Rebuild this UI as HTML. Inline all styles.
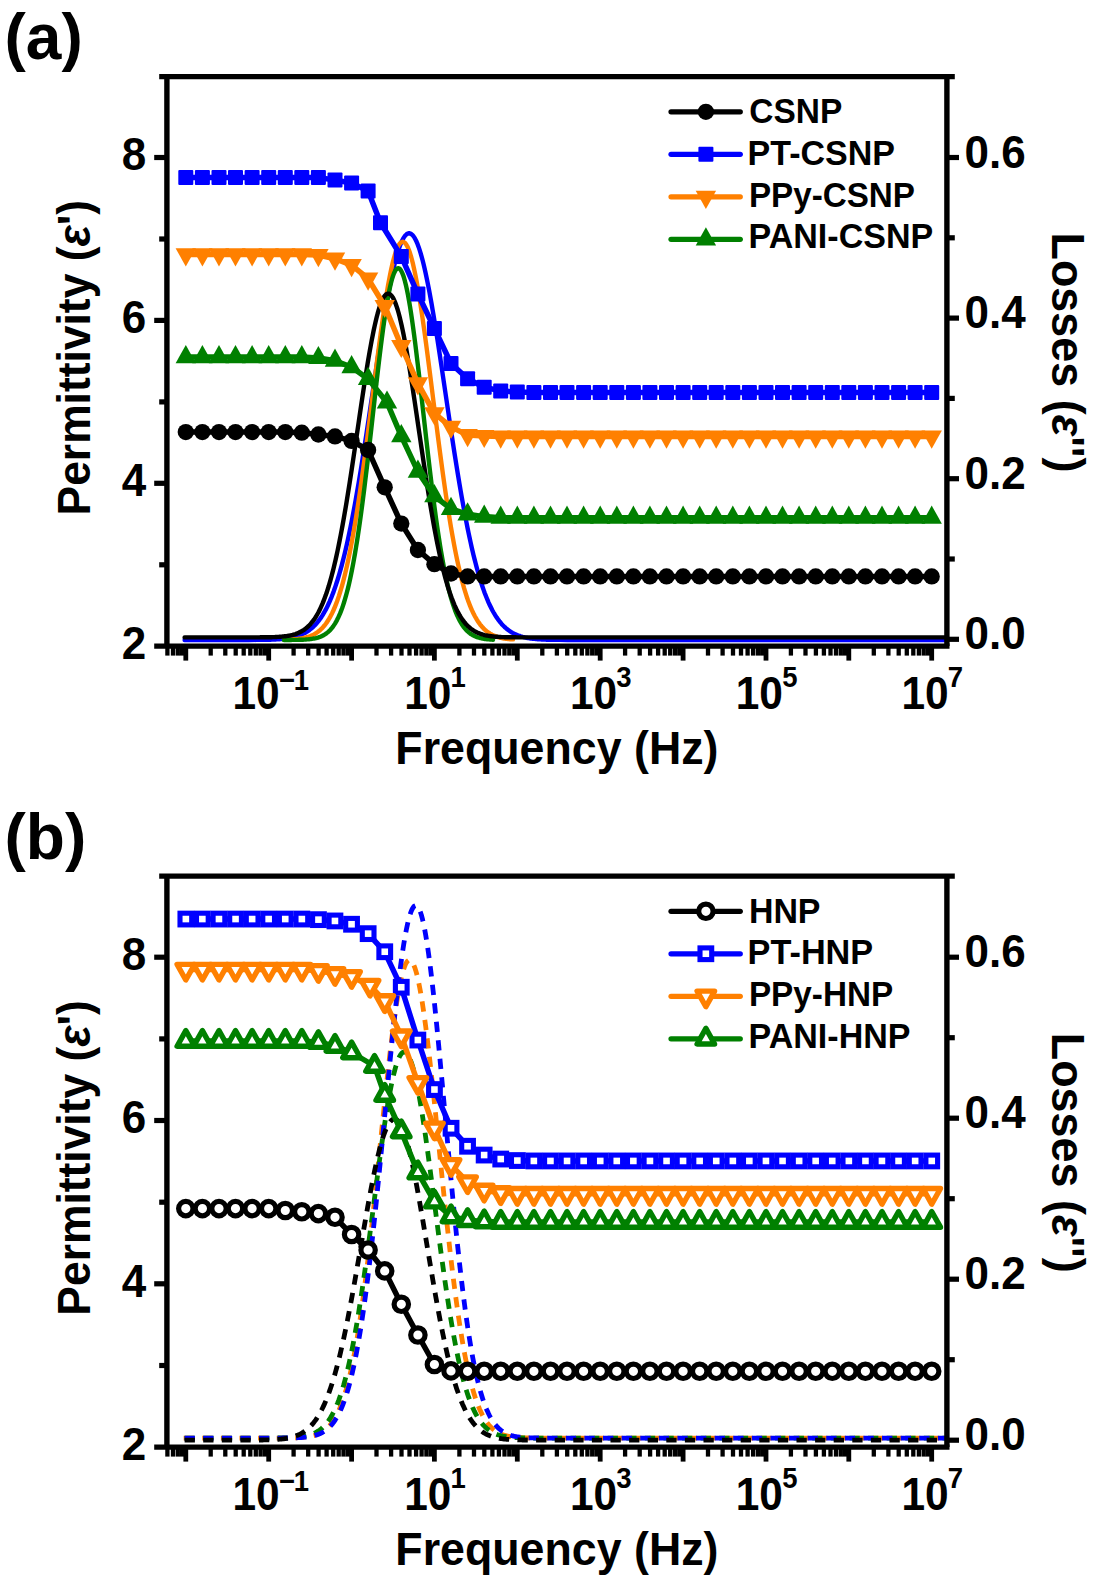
<!DOCTYPE html>
<html><head><meta charset="utf-8"><title>Permittivity and losses</title>
<style>html,body{margin:0;padding:0;background:#fff}svg{display:block}text{font-family:"Liberation Sans",sans-serif}</style>
</head><body>
<svg width="1100" height="1581" viewBox="0 0 1100 1581">
<rect width="1100" height="1581" fill="#fff"/>
<path d="M184.6 640.0 L192.6 640.0 L200.6 640.0 L208.6 640.0 L216.6 640.0 L224.6 640.0 L232.6 640.0 L240.6 640.0 L248.6 640.0 L256.6 639.9 L264.6 639.8 L265.6 639.8 L266.6 639.8 L267.6 639.8 L268.6 639.7 L269.6 639.7 L270.6 639.7 L271.6 639.6 L272.6 639.6 L273.6 639.6 L274.6 639.5 L275.6 639.5 L276.6 639.4 L277.6 639.4 L278.6 639.3 L279.6 639.2 L280.6 639.1 L281.6 639.1 L282.6 639.0 L283.6 638.9 L284.6 638.8 L285.6 638.6 L286.6 638.5 L287.6 638.4 L288.6 638.2 L289.6 638.0 L290.6 637.8 L291.6 637.6 L292.6 637.4 L293.6 637.2 L294.6 637.0 L295.6 636.7 L296.6 636.4 L297.6 636.1 L298.6 635.7 L299.6 635.4 L300.6 635.0 L301.6 634.6 L302.6 634.1 L303.6 633.6 L304.6 633.1 L305.6 632.5 L306.6 631.9 L307.6 631.3 L308.6 630.6 L309.6 629.9 L310.6 629.1 L311.6 628.3 L312.6 627.4 L313.6 626.5 L314.6 625.5 L315.6 624.4 L316.6 623.3 L317.6 622.1 L318.6 620.9 L319.6 619.5 L320.6 618.1 L321.6 616.7 L322.6 615.1 L323.6 613.4 L324.6 611.7 L325.6 609.9 L326.6 607.9 L327.6 605.9 L328.6 603.8 L329.6 601.6 L330.6 599.2 L331.6 596.8 L332.6 594.2 L333.6 591.6 L334.6 588.8 L335.6 585.9 L336.6 582.8 L337.6 579.7 L338.6 576.4 L339.6 573.0 L340.6 569.4 L341.6 565.8 L342.6 561.9 L343.6 558.0 L344.6 553.9 L345.6 549.7 L346.6 545.4 L347.6 540.9 L348.6 536.3 L349.6 531.5 L350.6 526.6 L351.6 521.6 L352.6 516.5 L353.6 511.2 L354.6 505.8 L355.6 500.3 L356.6 494.6 L357.6 488.9 L358.6 483.0 L359.6 477.0 L360.6 471.0 L361.6 464.8 L362.6 458.5 L363.6 452.2 L364.6 445.8 L365.6 439.3 L366.6 432.8 L367.6 426.2 L368.6 419.5 L369.6 412.8 L370.6 406.1 L371.6 399.4 L372.6 392.7 L373.6 385.9 L374.6 379.2 L375.6 372.5 L376.6 365.8 L377.6 359.2 L378.6 352.6 L379.6 346.1 L380.6 339.7 L381.6 333.3 L382.6 327.1 L383.6 320.9 L384.6 314.9 L385.6 309.1 L386.6 303.3 L387.6 297.8 L388.6 292.3 L389.6 287.1 L390.6 282.1 L391.6 277.2 L392.6 272.6 L393.6 268.2 L394.6 264.0 L395.6 260.0 L396.6 256.3 L397.6 252.9 L398.6 249.7 L399.6 246.8 L400.6 244.1 L401.6 241.7 L402.6 239.7 L403.6 237.9 L404.6 236.4 L405.6 235.2 L406.6 234.2 L407.6 233.6 L408.6 233.3 L409.6 233.3 L410.6 233.6 L411.6 234.3 L412.6 235.2 L413.6 236.4 L414.6 237.9 L415.6 239.7 L416.6 241.8 L417.6 244.2 L418.6 246.9 L419.6 249.9 L420.6 253.1 L421.6 256.6 L422.6 260.3 L423.6 264.3 L424.6 268.6 L425.6 273.0 L426.6 277.7 L427.6 282.6 L428.6 287.7 L429.6 292.9 L430.6 298.4 L431.6 304.0 L432.6 309.8 L433.6 315.7 L434.6 321.8 L435.6 328.0 L436.6 334.3 L437.6 340.7 L438.6 347.1 L439.6 353.7 L440.6 360.3 L441.6 367.0 L442.6 373.7 L443.6 380.5 L444.6 387.2 L445.6 394.0 L446.6 400.8 L447.6 407.5 L448.6 414.3 L449.6 421.0 L450.6 427.7 L451.6 434.3 L452.6 440.9 L453.6 447.4 L454.6 453.8 L455.6 460.2 L456.6 466.4 L457.6 472.6 L458.6 478.7 L459.6 484.6 L460.6 490.5 L461.6 496.3 L462.6 501.9 L463.6 507.4 L464.6 512.8 L465.6 518.1 L466.6 523.2 L467.6 528.2 L468.6 533.1 L469.6 537.8 L470.6 542.4 L471.6 546.9 L472.6 551.2 L473.6 555.4 L474.6 559.4 L475.6 563.3 L476.6 567.1 L477.6 570.8 L478.6 574.3 L479.6 577.7 L480.6 580.9 L481.6 584.0 L482.6 587.0 L483.6 589.9 L484.6 592.7 L485.6 595.3 L486.6 597.8 L487.6 600.2 L488.6 602.6 L489.6 604.7 L490.6 606.8 L491.6 608.8 L492.6 610.7 L493.6 612.5 L494.6 614.2 L495.6 615.8 L496.6 617.4 L497.6 618.8 L498.6 620.2 L499.6 621.5 L500.6 622.7 L501.6 623.9 L502.6 625.0 L503.6 626.0 L504.6 627.0 L505.6 627.9 L506.6 628.7 L507.6 629.5 L508.6 630.3 L509.6 631.0 L510.6 631.7 L511.6 632.3 L512.6 632.9 L513.6 633.4 L514.6 633.9 L515.6 634.4 L516.6 634.8 L517.6 635.2 L518.6 635.6 L519.6 635.9 L520.6 636.3 L521.6 636.6 L522.6 636.9 L523.6 637.1 L524.6 637.4 L525.6 637.6 L526.6 637.8 L527.6 638.0 L528.6 638.1 L529.6 638.3 L530.6 638.5 L531.6 638.6 L532.6 638.7 L533.6 638.8 L534.6 638.9 L535.6 639.0 L536.6 639.1 L537.6 639.2 L538.6 639.3 L539.6 639.3 L540.6 639.4 L541.6 639.5 L542.6 639.5 L543.6 639.6 L544.6 639.6 L545.6 639.6 L546.6 639.7 L547.6 639.7 L548.6 639.7 L549.6 639.8 L550.6 639.8 L551.6 639.8 L552.6 639.8 L553.6 639.8 L554.6 639.9 L555.6 639.9 L556.6 639.9 L557.6 639.9 L558.6 639.9 L559.6 639.9 L567.6 640.0 L575.6 640.0 L583.6 640.0 L591.6 640.0 L599.6 640.0 L607.6 640.0 L615.6 640.0 L623.6 640.0 L631.6 640.0 L639.6 640.0 L647.6 640.0 L655.6 640.0 L663.6 640.0 L671.6 640.0 L679.6 640.0 L687.6 640.0 L695.6 640.0 L703.6 640.0 L711.6 640.0 L719.6 640.0 L727.6 640.0 L735.6 640.0 L743.6 640.0 L751.6 640.0 L759.6 640.0 L767.6 640.0 L775.6 640.0 L783.6 640.0 L791.6 640.0 L799.6 640.0 L807.6 640.0 L815.6 640.0 L823.6 640.0 L831.6 640.0 L839.6 640.0 L847.6 640.0 L855.6 640.0 L863.6 640.0 L871.6 640.0 L879.6 640.0 L887.6 640.0 L895.6 640.0 L903.6 640.0 L911.6 640.0 L919.6 640.0 L927.6 640.0 L935.6 640.0 L943.6 640.0 L945.2 640.0" fill="none" stroke="#0000ff" stroke-width="4.4" stroke-linejoin="round" stroke-linecap="round"/>
<path d="M284.0 639.8 L285.0 639.8 L286.0 639.7 L287.0 639.7 L288.0 639.7 L289.0 639.6 L290.0 639.6 L291.0 639.5 L292.0 639.5 L293.0 639.4 L294.0 639.3 L295.0 639.3 L296.0 639.2 L297.0 639.1 L298.0 638.9 L299.0 638.8 L300.0 638.7 L301.0 638.5 L302.0 638.4 L303.0 638.2 L304.0 638.0 L305.0 637.7 L306.0 637.5 L307.0 637.2 L308.0 636.9 L309.0 636.6 L310.0 636.2 L311.0 635.8 L312.0 635.4 L313.0 634.9 L314.0 634.4 L315.0 633.8 L316.0 633.2 L317.0 632.5 L318.0 631.8 L319.0 631.0 L320.0 630.2 L321.0 629.2 L322.0 628.3 L323.0 627.2 L324.0 626.0 L325.0 624.8 L326.0 623.5 L327.0 622.1 L328.0 620.5 L329.0 618.9 L330.0 617.2 L331.0 615.3 L332.0 613.4 L333.0 611.3 L334.0 609.0 L335.0 606.6 L336.0 604.1 L337.0 601.5 L338.0 598.6 L339.0 595.7 L340.0 592.5 L341.0 589.2 L342.0 585.8 L343.0 582.1 L344.0 578.3 L345.0 574.3 L346.0 570.1 L347.0 565.7 L348.0 561.1 L349.0 556.3 L350.0 551.4 L351.0 546.2 L352.0 540.9 L353.0 535.4 L354.0 529.6 L355.0 523.7 L356.0 517.6 L357.0 511.4 L358.0 504.9 L359.0 498.3 L360.0 491.5 L361.0 484.6 L362.0 477.5 L363.0 470.3 L364.0 462.9 L365.0 455.4 L366.0 447.9 L367.0 440.2 L368.0 432.4 L369.0 424.6 L370.0 416.7 L371.0 408.8 L372.0 400.9 L373.0 392.9 L374.0 385.0 L375.0 377.1 L376.0 369.2 L377.0 361.4 L378.0 353.7 L379.0 346.2 L380.0 338.7 L381.0 331.4 L382.0 324.2 L383.0 317.2 L384.0 310.4 L385.0 303.9 L386.0 297.6 L387.0 291.5 L388.0 285.7 L389.0 280.3 L390.0 275.1 L391.0 270.2 L392.0 265.7 L393.0 261.6 L394.0 257.8 L395.0 254.4 L396.0 251.4 L397.0 248.7 L398.0 246.5 L399.0 244.7 L400.0 243.4 L401.0 242.4 L402.0 241.9 L403.0 241.8 L404.0 242.2 L405.0 242.9 L406.0 244.1 L407.0 245.8 L408.0 247.8 L409.0 250.3 L410.0 253.1 L411.0 256.4 L412.0 260.0 L413.0 264.0 L414.0 268.4 L415.0 273.1 L416.0 278.1 L417.0 283.5 L418.0 289.2 L419.0 295.1 L420.0 301.3 L421.0 307.8 L422.0 314.5 L423.0 321.4 L424.0 328.5 L425.0 335.7 L426.0 343.1 L427.0 350.7 L428.0 358.4 L429.0 366.1 L430.0 373.9 L431.0 381.8 L432.0 389.7 L433.0 397.7 L434.0 405.6 L435.0 413.6 L436.0 421.5 L437.0 429.3 L438.0 437.1 L439.0 444.8 L440.0 452.4 L441.0 459.9 L442.0 467.3 L443.0 474.6 L444.0 481.8 L445.0 488.8 L446.0 495.6 L447.0 502.3 L448.0 508.8 L449.0 515.1 L450.0 521.3 L451.0 527.3 L452.0 533.1 L453.0 538.7 L454.0 544.1 L455.0 549.3 L456.0 554.4 L457.0 559.2 L458.0 563.9 L459.0 568.3 L460.0 572.6 L461.0 576.7 L462.0 580.6 L463.0 584.3 L464.0 587.9 L465.0 591.2 L466.0 594.4 L467.0 597.5 L468.0 600.4 L469.0 603.1 L470.0 605.7 L471.0 608.1 L472.0 610.4 L473.0 612.5 L474.0 614.6 L475.0 616.5 L476.0 618.2 L477.0 619.9 L478.0 621.5 L479.0 622.9 L480.0 624.3 L481.0 625.6 L482.0 626.7 L483.0 627.8 L484.0 628.9 L485.0 629.8 L486.0 630.7 L487.0 631.5 L488.0 632.2 L489.0 632.9 L490.0 633.6 L491.0 634.1 L492.0 634.7 L493.0 635.2 L494.0 635.6 L495.0 636.0 L496.0 636.4 L497.0 636.8 L498.0 637.1 L499.0 637.4 L500.0 637.6 L501.0 637.9 L502.0 638.1 L503.0 638.3 L504.0 638.5 L505.0 638.6 L506.0 638.8 L507.0 638.9 L508.0 639.0 L509.0 639.1 L510.0 639.2 L511.0 639.3 L512.0 639.4 L513.0 639.4" fill="none" stroke="#ff8000" stroke-width="4.4" stroke-linejoin="round" stroke-linecap="round"/>
<path d="M284.0 640.0 L285.0 640.0 L286.0 640.0 L287.0 640.0 L288.0 640.0 L289.0 640.0 L290.0 640.0 L291.0 640.0 L292.0 639.9 L293.0 639.9 L294.0 639.9 L295.0 639.9 L296.0 639.9 L297.0 639.9 L298.0 639.9 L299.0 639.8 L300.0 639.8 L301.0 639.8 L302.0 639.7 L303.0 639.7 L304.0 639.6 L305.0 639.6 L306.0 639.5 L307.0 639.4 L308.0 639.4 L309.0 639.3 L310.0 639.1 L311.0 639.0 L312.0 638.9 L313.0 638.7 L314.0 638.5 L315.0 638.3 L316.0 638.1 L317.0 637.8 L318.0 637.6 L319.0 637.2 L320.0 636.9 L321.0 636.5 L322.0 636.0 L323.0 635.5 L324.0 635.0 L325.0 634.3 L326.0 633.7 L327.0 632.9 L328.0 632.1 L329.0 631.2 L330.0 630.2 L331.0 629.1 L332.0 627.9 L333.0 626.6 L334.0 625.1 L335.0 623.6 L336.0 621.9 L337.0 620.1 L338.0 618.1 L339.0 615.9 L340.0 613.6 L341.0 611.1 L342.0 608.5 L343.0 605.6 L344.0 602.5 L345.0 599.2 L346.0 595.7 L347.0 592.0 L348.0 588.1 L349.0 583.9 L350.0 579.4 L351.0 574.8 L352.0 569.8 L353.0 564.6 L354.0 559.2 L355.0 553.5 L356.0 547.5 L357.0 541.3 L358.0 534.8 L359.0 528.1 L360.0 521.1 L361.0 513.9 L362.0 506.4 L363.0 498.8 L364.0 490.9 L365.0 482.8 L366.0 474.6 L367.0 466.2 L368.0 457.7 L369.0 449.0 L370.0 440.2 L371.0 431.4 L372.0 422.5 L373.0 413.6 L374.0 404.7 L375.0 395.8 L376.0 387.0 L377.0 378.3 L378.0 369.7 L379.0 361.2 L380.0 353.0 L381.0 344.9 L382.0 337.1 L383.0 329.6 L384.0 322.4 L385.0 315.5 L386.0 309.0 L387.0 302.9 L388.0 297.2 L389.0 292.0 L390.0 287.2 L391.0 283.0 L392.0 279.2 L393.0 276.0 L394.0 273.3 L395.0 271.2 L396.0 269.6 L397.0 268.6 L398.0 268.2 L399.0 268.4 L400.0 269.1 L401.0 270.5 L402.0 272.4 L403.0 274.8 L404.0 277.8 L405.0 281.4 L406.0 285.5 L407.0 290.0 L408.0 295.1 L409.0 300.6 L410.0 306.5 L411.0 312.9 L412.0 319.6 L413.0 326.7 L414.0 334.1 L415.0 341.8 L416.0 349.7 L417.0 357.9 L418.0 366.3 L419.0 374.8 L420.0 383.5 L421.0 392.3 L422.0 401.1 L423.0 410.0 L424.0 418.9 L425.0 427.8 L426.0 436.7 L427.0 445.5 L428.0 454.2 L429.0 462.8 L430.0 471.2 L431.0 479.6 L432.0 487.7 L433.0 495.6 L434.0 503.4 L435.0 510.9 L436.0 518.2 L437.0 525.3 L438.0 532.1 L439.0 538.7 L440.0 545.0 L441.0 551.1 L442.0 556.9 L443.0 562.5 L444.0 567.8 L445.0 572.8 L446.0 577.6 L447.0 582.1 L448.0 586.4 L449.0 590.5 L450.0 594.3 L451.0 597.9 L452.0 601.2 L453.0 604.4 L454.0 607.3 L455.0 610.1 L456.0 612.7 L457.0 615.0 L458.0 617.2 L459.0 619.3 L460.0 621.2 L461.0 622.9 L462.0 624.5 L463.0 626.0 L464.0 627.4 L465.0 628.6 L466.0 629.7 L467.0 630.8 L468.0 631.7 L469.0 632.6 L470.0 633.4 L471.0 634.1 L472.0 634.7 L473.0 635.3 L474.0 635.8 L475.0 636.3 L476.0 636.7 L477.0 637.1 L478.0 637.4 L479.0 637.7 L480.0 638.0 L481.0 638.2 L482.0 638.5 L483.0 638.6 L484.0 638.8 L485.0 639.0 L486.0 639.1 L487.0 639.2 L488.0 639.3 L489.0 639.4 L490.0 639.5 L491.0 639.6 L492.0 639.6 L493.0 639.7" fill="none" stroke="#008000" stroke-width="4.4" stroke-linejoin="round" stroke-linecap="round"/>
<path d="M184.6 637.4 L192.6 637.4 L200.6 637.4 L208.6 637.4 L216.6 637.4 L224.6 637.4 L232.6 637.4 L240.6 637.4 L241.6 637.4 L242.6 637.4 L243.6 637.4 L244.6 637.4 L245.6 637.4 L246.6 637.4 L247.6 637.4 L248.6 637.4 L249.6 637.4 L250.6 637.4 L251.6 637.4 L252.6 637.4 L253.6 637.4 L254.6 637.4 L255.6 637.4 L256.6 637.4 L257.6 637.4 L258.6 637.4 L259.6 637.4 L260.6 637.3 L261.6 637.3 L262.6 637.3 L263.6 637.3 L264.6 637.3 L265.6 637.3 L266.6 637.3 L267.6 637.3 L268.6 637.2 L269.6 637.2 L270.6 637.2 L271.6 637.2 L272.6 637.1 L273.6 637.1 L274.6 637.1 L275.6 637.0 L276.6 637.0 L277.6 636.9 L278.6 636.9 L279.6 636.8 L280.6 636.7 L281.6 636.6 L282.6 636.5 L283.6 636.4 L284.6 636.3 L285.6 636.2 L286.6 636.1 L287.6 635.9 L288.6 635.7 L289.6 635.6 L290.6 635.3 L291.6 635.1 L292.6 634.9 L293.6 634.6 L294.6 634.3 L295.6 634.0 L296.6 633.6 L297.6 633.2 L298.6 632.8 L299.6 632.3 L300.6 631.8 L301.6 631.3 L302.6 630.7 L303.6 630.1 L304.6 629.4 L305.6 628.6 L306.6 627.8 L307.6 626.9 L308.6 626.0 L309.6 625.0 L310.6 623.9 L311.6 622.7 L312.6 621.5 L313.6 620.1 L314.6 618.7 L315.6 617.2 L316.6 615.5 L317.6 613.8 L318.6 612.0 L319.6 610.0 L320.6 607.9 L321.6 605.7 L322.6 603.4 L323.6 600.9 L324.6 598.3 L325.6 595.6 L326.6 592.7 L327.6 589.6 L328.6 586.5 L329.6 583.1 L330.6 579.6 L331.6 576.0 L332.6 572.1 L333.6 568.2 L334.6 564.0 L335.6 559.7 L336.6 555.2 L337.6 550.6 L338.6 545.8 L339.6 540.8 L340.6 535.7 L341.6 530.4 L342.6 525.0 L343.6 519.4 L344.6 513.6 L345.6 507.8 L346.6 501.8 L347.6 495.6 L348.6 489.4 L349.6 483.1 L350.6 476.6 L351.6 470.1 L352.6 463.4 L353.6 456.7 L354.6 450.0 L355.6 443.2 L356.6 436.4 L357.6 429.6 L358.6 422.7 L359.6 415.9 L360.6 409.1 L361.6 402.4 L362.6 395.7 L363.6 389.1 L364.6 382.5 L365.6 376.1 L366.6 369.9 L367.6 363.7 L368.6 357.7 L369.6 351.9 L370.6 346.3 L371.6 340.9 L372.6 335.8 L373.6 330.8 L374.6 326.1 L375.6 321.7 L376.6 317.6 L377.6 313.7 L378.6 310.2 L379.6 307.0 L380.6 304.1 L381.6 301.6 L382.6 299.3 L383.6 297.5 L384.6 296.0 L385.6 294.8 L386.6 294.1 L387.6 293.7 L388.6 293.6 L389.6 294.0 L390.6 294.7 L391.6 295.7 L392.6 297.2 L393.6 298.9 L394.6 301.1 L395.6 303.6 L396.6 306.4 L397.6 309.5 L398.6 313.0 L399.6 316.8 L400.6 320.9 L401.6 325.2 L402.6 329.9 L403.6 334.7 L404.6 339.9 L405.6 345.2 L406.6 350.8 L407.6 356.6 L408.6 362.5 L409.6 368.6 L410.6 374.9 L411.6 381.3 L412.6 387.7 L413.6 394.3 L414.6 401.0 L415.6 407.8 L416.6 414.5 L417.6 421.4 L418.6 428.2 L419.6 435.0 L420.6 441.8 L421.6 448.6 L422.6 455.4 L423.6 462.1 L424.6 468.7 L425.6 475.3 L426.6 481.8 L427.6 488.1 L428.6 494.4 L429.6 500.6 L430.6 506.6 L431.6 512.5 L432.6 518.2 L433.6 523.9 L434.6 529.3 L435.6 534.6 L436.6 539.8 L437.6 544.8 L438.6 549.6 L439.6 554.3 L440.6 558.8 L441.6 563.2 L442.6 567.3 L443.6 571.3 L444.6 575.2 L445.6 578.9 L446.6 582.4 L447.6 585.8 L448.6 589.0 L449.6 592.1 L450.6 595.0 L451.6 597.8 L452.6 600.4 L453.6 602.9 L454.6 605.3 L455.6 607.5 L456.6 609.6 L457.6 611.6 L458.6 613.4 L459.6 615.2 L460.6 616.9 L461.6 618.4 L462.6 619.9 L463.6 621.2 L464.6 622.5 L465.6 623.7 L466.6 624.8 L467.6 625.8 L468.6 626.7 L469.6 627.6 L470.6 628.5 L471.6 629.2 L472.6 629.9 L473.6 630.6 L474.6 631.2 L475.6 631.7 L476.6 632.2 L477.6 632.7 L478.6 633.1 L479.6 633.5 L480.6 633.9 L481.6 634.2 L482.6 634.5 L483.6 634.8 L484.6 635.1 L485.6 635.3 L486.6 635.5 L487.6 635.7 L488.6 635.9 L489.6 636.0 L490.6 636.2 L491.6 636.3 L492.6 636.4 L493.6 636.5 L494.6 636.6 L495.6 636.7 L496.6 636.8 L497.6 636.8 L498.6 636.9 L499.6 637.0 L500.6 637.0 L501.6 637.1 L502.6 637.1 L503.6 637.1 L504.6 637.2 L505.6 637.2 L506.6 637.2 L507.6 637.2 L508.6 637.3 L509.6 637.3 L510.6 637.3 L511.6 637.3 L512.6 637.3 L513.6 637.3 L514.6 637.3 L515.6 637.3 L516.6 637.4 L517.6 637.4 L518.6 637.4 L519.6 637.4 L520.6 637.4 L521.6 637.4 L522.6 637.4 L523.6 637.4 L524.6 637.4 L525.6 637.4 L526.6 637.4 L527.6 637.4 L528.6 637.4 L529.6 637.4 L530.6 637.4 L531.6 637.4 L532.6 637.4 L533.6 637.4 L534.6 637.4 L535.6 637.4 L536.6 637.4 L537.6 637.4 L538.6 637.4 L546.6 637.4 L554.6 637.4 L562.6 637.4 L570.6 637.4 L578.6 637.4 L586.6 637.4 L594.6 637.4 L602.6 637.4 L610.6 637.4 L618.6 637.4 L626.6 637.4 L634.6 637.4 L642.6 637.4 L650.6 637.4 L658.6 637.4 L666.6 637.4 L674.6 637.4 L682.6 637.4 L690.6 637.4 L698.6 637.4 L706.6 637.4 L714.6 637.4 L722.6 637.4 L730.6 637.4 L738.6 637.4 L746.6 637.4 L754.6 637.4 L762.6 637.4 L770.6 637.4 L778.6 637.4 L786.6 637.4 L794.6 637.4 L802.6 637.4 L810.6 637.4 L818.6 637.4 L826.6 637.4 L834.6 637.4 L842.6 637.4 L850.6 637.4 L858.6 637.4 L866.6 637.4 L874.6 637.4 L882.6 637.4 L890.6 637.4 L898.6 637.4 L906.6 637.4 L914.6 637.4 L922.6 637.4 L930.6 637.4 L938.6 637.4 L945.2 637.4" fill="none" stroke="#000000" stroke-width="4.4" stroke-linejoin="round" stroke-linecap="round"/>
<path d="M185.8 432.1 L202.4 432.1 L219.0 432.1 L235.5 432.1 L252.1 432.1 L268.7 432.1 L285.3 432.1 L301.8 432.7 L318.4 434.5 L335.0 436.4 L351.6 440.9 L368.1 450.0 L384.7 487.3 L401.3 523.6 L417.9 550.0 L434.4 564.2 L451.0 573.5 L467.6 576.4 L484.2 576.4 L500.7 576.4 L517.3 576.4 L533.9 576.4 L550.5 576.4 L567.0 576.4 L583.6 576.4 L600.2 576.4 L616.8 576.4 L633.4 576.4 L649.9 576.4 L666.5 576.4 L683.1 576.4 L699.7 576.4 L716.2 576.4 L732.8 576.4 L749.4 576.4 L766.0 576.4 L782.5 576.4 L799.1 576.4 L815.7 576.4 L832.3 576.4 L848.8 576.4 L865.4 576.4 L882.0 576.4 L898.6 576.4 L915.1 576.4 L931.7 576.4" fill="none" stroke="#000000" stroke-width="5.5" stroke-linejoin="round" stroke-linecap="round"/>
<g><circle cx="185.8" cy="432.1" r="8.15" fill="#000000"/><circle cx="202.4" cy="432.1" r="8.15" fill="#000000"/><circle cx="219.0" cy="432.1" r="8.15" fill="#000000"/><circle cx="235.5" cy="432.1" r="8.15" fill="#000000"/><circle cx="252.1" cy="432.1" r="8.15" fill="#000000"/><circle cx="268.7" cy="432.1" r="8.15" fill="#000000"/><circle cx="285.3" cy="432.1" r="8.15" fill="#000000"/><circle cx="301.8" cy="432.7" r="8.15" fill="#000000"/><circle cx="318.4" cy="434.5" r="8.15" fill="#000000"/><circle cx="335.0" cy="436.4" r="8.15" fill="#000000"/><circle cx="351.6" cy="440.9" r="8.15" fill="#000000"/><circle cx="368.1" cy="450.0" r="8.15" fill="#000000"/><circle cx="384.7" cy="487.3" r="8.15" fill="#000000"/><circle cx="401.3" cy="523.6" r="8.15" fill="#000000"/><circle cx="417.9" cy="550.0" r="8.15" fill="#000000"/><circle cx="434.4" cy="564.2" r="8.15" fill="#000000"/><circle cx="451.0" cy="573.5" r="8.15" fill="#000000"/><circle cx="467.6" cy="576.4" r="8.15" fill="#000000"/><circle cx="484.2" cy="576.4" r="8.15" fill="#000000"/><circle cx="500.7" cy="576.4" r="8.15" fill="#000000"/><circle cx="517.3" cy="576.4" r="8.15" fill="#000000"/><circle cx="533.9" cy="576.4" r="8.15" fill="#000000"/><circle cx="550.5" cy="576.4" r="8.15" fill="#000000"/><circle cx="567.0" cy="576.4" r="8.15" fill="#000000"/><circle cx="583.6" cy="576.4" r="8.15" fill="#000000"/><circle cx="600.2" cy="576.4" r="8.15" fill="#000000"/><circle cx="616.8" cy="576.4" r="8.15" fill="#000000"/><circle cx="633.4" cy="576.4" r="8.15" fill="#000000"/><circle cx="649.9" cy="576.4" r="8.15" fill="#000000"/><circle cx="666.5" cy="576.4" r="8.15" fill="#000000"/><circle cx="683.1" cy="576.4" r="8.15" fill="#000000"/><circle cx="699.7" cy="576.4" r="8.15" fill="#000000"/><circle cx="716.2" cy="576.4" r="8.15" fill="#000000"/><circle cx="732.8" cy="576.4" r="8.15" fill="#000000"/><circle cx="749.4" cy="576.4" r="8.15" fill="#000000"/><circle cx="766.0" cy="576.4" r="8.15" fill="#000000"/><circle cx="782.5" cy="576.4" r="8.15" fill="#000000"/><circle cx="799.1" cy="576.4" r="8.15" fill="#000000"/><circle cx="815.7" cy="576.4" r="8.15" fill="#000000"/><circle cx="832.3" cy="576.4" r="8.15" fill="#000000"/><circle cx="848.8" cy="576.4" r="8.15" fill="#000000"/><circle cx="865.4" cy="576.4" r="8.15" fill="#000000"/><circle cx="882.0" cy="576.4" r="8.15" fill="#000000"/><circle cx="898.6" cy="576.4" r="8.15" fill="#000000"/><circle cx="915.1" cy="576.4" r="8.15" fill="#000000"/><circle cx="931.7" cy="576.4" r="8.15" fill="#000000"/></g>
<path d="M185.8 177.6 L202.4 177.6 L219.0 177.6 L235.5 177.6 L252.1 177.6 L268.7 177.6 L285.3 177.6 L301.8 177.6 L318.4 177.6 L335.0 180.0 L351.6 183.1 L368.1 190.9 L380.5 222.8 L401.3 256.4 L417.9 294.0 L434.4 328.4 L451.0 363.5 L467.6 378.7 L484.2 387.3 L500.7 390.9 L517.3 392.0 L533.9 392.5 L550.5 392.5 L567.0 392.5 L583.6 392.5 L600.2 392.5 L616.8 392.5 L633.4 392.5 L649.9 392.5 L666.5 392.5 L683.1 392.5 L699.7 392.5 L716.2 392.5 L732.8 392.5 L749.4 392.5 L766.0 392.5 L782.5 392.5 L799.1 392.5 L815.7 392.5 L832.3 392.5 L848.8 392.5 L865.4 392.5 L882.0 392.5 L898.6 392.5 L915.1 392.5 L931.7 392.5" fill="none" stroke="#0000ff" stroke-width="5.5" stroke-linejoin="round" stroke-linecap="round"/>
<g><rect x="178.3" y="170.1" width="15" height="15" rx="1" fill="#0000ff"/><rect x="194.9" y="170.1" width="15" height="15" rx="1" fill="#0000ff"/><rect x="211.5" y="170.1" width="15" height="15" rx="1" fill="#0000ff"/><rect x="228.0" y="170.1" width="15" height="15" rx="1" fill="#0000ff"/><rect x="244.6" y="170.1" width="15" height="15" rx="1" fill="#0000ff"/><rect x="261.2" y="170.1" width="15" height="15" rx="1" fill="#0000ff"/><rect x="277.8" y="170.1" width="15" height="15" rx="1" fill="#0000ff"/><rect x="294.3" y="170.1" width="15" height="15" rx="1" fill="#0000ff"/><rect x="310.9" y="170.1" width="15" height="15" rx="1" fill="#0000ff"/><rect x="327.5" y="172.5" width="15" height="15" rx="1" fill="#0000ff"/><rect x="344.1" y="175.6" width="15" height="15" rx="1" fill="#0000ff"/><rect x="360.6" y="183.4" width="15" height="15" rx="1" fill="#0000ff"/><rect x="373.0" y="215.3" width="15" height="15" rx="1" fill="#0000ff"/><rect x="393.8" y="248.9" width="15" height="15" rx="1" fill="#0000ff"/><rect x="410.4" y="286.5" width="15" height="15" rx="1" fill="#0000ff"/><rect x="426.9" y="320.9" width="15" height="15" rx="1" fill="#0000ff"/><rect x="443.5" y="356.0" width="15" height="15" rx="1" fill="#0000ff"/><rect x="460.1" y="371.2" width="15" height="15" rx="1" fill="#0000ff"/><rect x="476.7" y="379.8" width="15" height="15" rx="1" fill="#0000ff"/><rect x="493.2" y="383.4" width="15" height="15" rx="1" fill="#0000ff"/><rect x="509.8" y="384.5" width="15" height="15" rx="1" fill="#0000ff"/><rect x="526.4" y="385.0" width="15" height="15" rx="1" fill="#0000ff"/><rect x="543.0" y="385.0" width="15" height="15" rx="1" fill="#0000ff"/><rect x="559.5" y="385.0" width="15" height="15" rx="1" fill="#0000ff"/><rect x="576.1" y="385.0" width="15" height="15" rx="1" fill="#0000ff"/><rect x="592.7" y="385.0" width="15" height="15" rx="1" fill="#0000ff"/><rect x="609.3" y="385.0" width="15" height="15" rx="1" fill="#0000ff"/><rect x="625.9" y="385.0" width="15" height="15" rx="1" fill="#0000ff"/><rect x="642.4" y="385.0" width="15" height="15" rx="1" fill="#0000ff"/><rect x="659.0" y="385.0" width="15" height="15" rx="1" fill="#0000ff"/><rect x="675.6" y="385.0" width="15" height="15" rx="1" fill="#0000ff"/><rect x="692.2" y="385.0" width="15" height="15" rx="1" fill="#0000ff"/><rect x="708.7" y="385.0" width="15" height="15" rx="1" fill="#0000ff"/><rect x="725.3" y="385.0" width="15" height="15" rx="1" fill="#0000ff"/><rect x="741.9" y="385.0" width="15" height="15" rx="1" fill="#0000ff"/><rect x="758.5" y="385.0" width="15" height="15" rx="1" fill="#0000ff"/><rect x="775.0" y="385.0" width="15" height="15" rx="1" fill="#0000ff"/><rect x="791.6" y="385.0" width="15" height="15" rx="1" fill="#0000ff"/><rect x="808.2" y="385.0" width="15" height="15" rx="1" fill="#0000ff"/><rect x="824.8" y="385.0" width="15" height="15" rx="1" fill="#0000ff"/><rect x="841.3" y="385.0" width="15" height="15" rx="1" fill="#0000ff"/><rect x="857.9" y="385.0" width="15" height="15" rx="1" fill="#0000ff"/><rect x="874.5" y="385.0" width="15" height="15" rx="1" fill="#0000ff"/><rect x="891.1" y="385.0" width="15" height="15" rx="1" fill="#0000ff"/><rect x="907.6" y="385.0" width="15" height="15" rx="1" fill="#0000ff"/><rect x="924.2" y="385.0" width="15" height="15" rx="1" fill="#0000ff"/></g>
<path d="M185.8 254.4 L202.4 254.4 L219.0 254.4 L235.5 254.4 L252.1 254.4 L268.7 254.4 L285.3 254.4 L301.8 254.4 L318.4 255.1 L335.0 258.7 L351.6 265.1 L368.1 278.7 L384.7 306.0 L401.3 346.0 L417.9 383.3 L434.4 413.3 L451.0 426.9 L467.6 435.1 L484.2 436.0 L500.7 436.6 L517.3 436.6 L533.9 436.6 L550.5 436.6 L567.0 436.6 L583.6 436.6 L600.2 436.6 L616.8 436.6 L633.4 436.6 L649.9 436.6 L666.5 436.6 L683.1 436.6 L699.7 436.6 L716.2 436.6 L732.8 436.6 L749.4 436.6 L766.0 436.6 L782.5 436.6 L799.1 436.6 L815.7 436.6 L832.3 436.6 L848.8 436.6 L865.4 436.6 L882.0 436.6 L898.6 436.6 L915.1 436.6 L931.7 436.6" fill="none" stroke="#ff8000" stroke-width="5.5" stroke-linejoin="round" stroke-linecap="round"/>
<g><polygon points="175.6,248.3 196.0,248.3 185.8,266.5" fill="#ff8000"/><polygon points="192.2,248.3 212.6,248.3 202.4,266.5" fill="#ff8000"/><polygon points="208.8,248.3 229.2,248.3 219.0,266.5" fill="#ff8000"/><polygon points="225.3,248.3 245.7,248.3 235.5,266.5" fill="#ff8000"/><polygon points="241.9,248.3 262.3,248.3 252.1,266.5" fill="#ff8000"/><polygon points="258.5,248.3 278.9,248.3 268.7,266.5" fill="#ff8000"/><polygon points="275.1,248.3 295.5,248.3 285.3,266.5" fill="#ff8000"/><polygon points="291.6,248.3 312.0,248.3 301.8,266.5" fill="#ff8000"/><polygon points="308.2,249.0 328.6,249.0 318.4,267.2" fill="#ff8000"/><polygon points="324.8,252.6 345.2,252.6 335.0,270.8" fill="#ff8000"/><polygon points="341.4,259.0 361.8,259.0 351.6,277.2" fill="#ff8000"/><polygon points="357.9,272.6 378.3,272.6 368.1,290.8" fill="#ff8000"/><polygon points="374.5,299.9 394.9,299.9 384.7,318.1" fill="#ff8000"/><polygon points="391.1,339.9 411.5,339.9 401.3,358.1" fill="#ff8000"/><polygon points="407.7,377.2 428.1,377.2 417.9,395.4" fill="#ff8000"/><polygon points="424.2,407.2 444.6,407.2 434.4,425.4" fill="#ff8000"/><polygon points="440.8,420.8 461.2,420.8 451.0,439.0" fill="#ff8000"/><polygon points="457.4,429.0 477.8,429.0 467.6,447.2" fill="#ff8000"/><polygon points="474.0,429.9 494.4,429.9 484.2,448.1" fill="#ff8000"/><polygon points="490.5,430.5 510.9,430.5 500.7,448.7" fill="#ff8000"/><polygon points="507.1,430.5 527.5,430.5 517.3,448.7" fill="#ff8000"/><polygon points="523.7,430.5 544.1,430.5 533.9,448.7" fill="#ff8000"/><polygon points="540.3,430.5 560.7,430.5 550.5,448.7" fill="#ff8000"/><polygon points="556.8,430.5 577.2,430.5 567.0,448.7" fill="#ff8000"/><polygon points="573.4,430.5 593.8,430.5 583.6,448.7" fill="#ff8000"/><polygon points="590.0,430.5 610.4,430.5 600.2,448.7" fill="#ff8000"/><polygon points="606.6,430.5 627.0,430.5 616.8,448.7" fill="#ff8000"/><polygon points="623.2,430.5 643.6,430.5 633.4,448.7" fill="#ff8000"/><polygon points="639.7,430.5 660.1,430.5 649.9,448.7" fill="#ff8000"/><polygon points="656.3,430.5 676.7,430.5 666.5,448.7" fill="#ff8000"/><polygon points="672.9,430.5 693.3,430.5 683.1,448.7" fill="#ff8000"/><polygon points="689.5,430.5 709.9,430.5 699.7,448.7" fill="#ff8000"/><polygon points="706.0,430.5 726.4,430.5 716.2,448.7" fill="#ff8000"/><polygon points="722.6,430.5 743.0,430.5 732.8,448.7" fill="#ff8000"/><polygon points="739.2,430.5 759.6,430.5 749.4,448.7" fill="#ff8000"/><polygon points="755.8,430.5 776.2,430.5 766.0,448.7" fill="#ff8000"/><polygon points="772.3,430.5 792.7,430.5 782.5,448.7" fill="#ff8000"/><polygon points="788.9,430.5 809.3,430.5 799.1,448.7" fill="#ff8000"/><polygon points="805.5,430.5 825.9,430.5 815.7,448.7" fill="#ff8000"/><polygon points="822.1,430.5 842.5,430.5 832.3,448.7" fill="#ff8000"/><polygon points="838.6,430.5 859.0,430.5 848.8,448.7" fill="#ff8000"/><polygon points="855.2,430.5 875.6,430.5 865.4,448.7" fill="#ff8000"/><polygon points="871.8,430.5 892.2,430.5 882.0,448.7" fill="#ff8000"/><polygon points="888.4,430.5 908.8,430.5 898.6,448.7" fill="#ff8000"/><polygon points="904.9,430.5 925.3,430.5 915.1,448.7" fill="#ff8000"/><polygon points="921.5,430.5 941.9,430.5 931.7,448.7" fill="#ff8000"/></g>
<path d="M185.8 357.1 L202.4 357.1 L219.0 357.1 L235.5 357.1 L252.1 357.1 L268.7 357.1 L285.3 357.1 L301.8 357.1 L318.4 358.0 L335.0 360.7 L351.6 367.1 L368.1 378.9 L387.0 402.5 L401.3 436.1 L417.9 471.6 L434.4 496.1 L451.0 508.9 L467.6 514.3 L484.2 516.6 L500.7 517.7 L517.3 517.7 L533.9 517.7 L550.5 517.7 L567.0 517.7 L583.6 517.7 L600.2 517.7 L616.8 517.7 L633.4 517.7 L649.9 517.7 L666.5 517.7 L683.1 517.7 L699.7 517.7 L716.2 517.7 L732.8 517.7 L749.4 517.7 L766.0 517.7 L782.5 517.7 L799.1 517.7 L815.7 517.7 L832.3 517.7 L848.8 517.7 L865.4 517.7 L882.0 517.7 L898.6 517.7 L915.1 517.7 L931.7 517.7" fill="none" stroke="#008000" stroke-width="5.5" stroke-linejoin="round" stroke-linecap="round"/>
<g><polygon points="175.6,363.2 196.0,363.2 185.8,345.0" fill="#008000"/><polygon points="192.2,363.2 212.6,363.2 202.4,345.0" fill="#008000"/><polygon points="208.8,363.2 229.2,363.2 219.0,345.0" fill="#008000"/><polygon points="225.3,363.2 245.7,363.2 235.5,345.0" fill="#008000"/><polygon points="241.9,363.2 262.3,363.2 252.1,345.0" fill="#008000"/><polygon points="258.5,363.2 278.9,363.2 268.7,345.0" fill="#008000"/><polygon points="275.1,363.2 295.5,363.2 285.3,345.0" fill="#008000"/><polygon points="291.6,363.2 312.0,363.2 301.8,345.0" fill="#008000"/><polygon points="308.2,364.1 328.6,364.1 318.4,345.9" fill="#008000"/><polygon points="324.8,366.8 345.2,366.8 335.0,348.6" fill="#008000"/><polygon points="341.4,373.2 361.8,373.2 351.6,355.0" fill="#008000"/><polygon points="357.9,385.0 378.3,385.0 368.1,366.8" fill="#008000"/><polygon points="376.8,408.6 397.2,408.6 387.0,390.4" fill="#008000"/><polygon points="391.1,442.2 411.5,442.2 401.3,424.0" fill="#008000"/><polygon points="407.7,477.7 428.1,477.7 417.9,459.5" fill="#008000"/><polygon points="424.2,502.2 444.6,502.2 434.4,484.0" fill="#008000"/><polygon points="440.8,515.0 461.2,515.0 451.0,496.8" fill="#008000"/><polygon points="457.4,520.4 477.8,520.4 467.6,502.2" fill="#008000"/><polygon points="474.0,522.7 494.4,522.7 484.2,504.5" fill="#008000"/><polygon points="490.5,523.8 510.9,523.8 500.7,505.6" fill="#008000"/><polygon points="507.1,523.8 527.5,523.8 517.3,505.6" fill="#008000"/><polygon points="523.7,523.8 544.1,523.8 533.9,505.6" fill="#008000"/><polygon points="540.3,523.8 560.7,523.8 550.5,505.6" fill="#008000"/><polygon points="556.8,523.8 577.2,523.8 567.0,505.6" fill="#008000"/><polygon points="573.4,523.8 593.8,523.8 583.6,505.6" fill="#008000"/><polygon points="590.0,523.8 610.4,523.8 600.2,505.6" fill="#008000"/><polygon points="606.6,523.8 627.0,523.8 616.8,505.6" fill="#008000"/><polygon points="623.2,523.8 643.6,523.8 633.4,505.6" fill="#008000"/><polygon points="639.7,523.8 660.1,523.8 649.9,505.6" fill="#008000"/><polygon points="656.3,523.8 676.7,523.8 666.5,505.6" fill="#008000"/><polygon points="672.9,523.8 693.3,523.8 683.1,505.6" fill="#008000"/><polygon points="689.5,523.8 709.9,523.8 699.7,505.6" fill="#008000"/><polygon points="706.0,523.8 726.4,523.8 716.2,505.6" fill="#008000"/><polygon points="722.6,523.8 743.0,523.8 732.8,505.6" fill="#008000"/><polygon points="739.2,523.8 759.6,523.8 749.4,505.6" fill="#008000"/><polygon points="755.8,523.8 776.2,523.8 766.0,505.6" fill="#008000"/><polygon points="772.3,523.8 792.7,523.8 782.5,505.6" fill="#008000"/><polygon points="788.9,523.8 809.3,523.8 799.1,505.6" fill="#008000"/><polygon points="805.5,523.8 825.9,523.8 815.7,505.6" fill="#008000"/><polygon points="822.1,523.8 842.5,523.8 832.3,505.6" fill="#008000"/><polygon points="838.6,523.8 859.0,523.8 848.8,505.6" fill="#008000"/><polygon points="855.2,523.8 875.6,523.8 865.4,505.6" fill="#008000"/><polygon points="871.8,523.8 892.2,523.8 882.0,505.6" fill="#008000"/><polygon points="888.4,523.8 908.8,523.8 898.6,505.6" fill="#008000"/><polygon points="904.9,523.8 925.3,523.8 915.1,505.6" fill="#008000"/><polygon points="921.5,523.8 941.9,523.8 931.7,505.6" fill="#008000"/></g>
<g stroke="#000" stroke-width="5.4" fill="none">
<line x1="159.2" y1="76.6" x2="954.8" y2="76.6"/>
<line x1="154.2" y1="646.1" x2="949.5" y2="646.1"/>
<line x1="166.9" y1="76.6" x2="166.9" y2="646.1"/>
<line x1="946.9" y1="76.6" x2="946.9" y2="646.1"/>
</g>
<g stroke="#000" stroke-width="5.2" fill="none">
<line x1="154.2" y1="483.3" x2="166.9" y2="483.3"/>
<line x1="154.2" y1="320.4" x2="166.9" y2="320.4"/>
<line x1="154.2" y1="157.5" x2="166.9" y2="157.5"/>
<line x1="159.2" y1="564.8" x2="166.9" y2="564.8"/>
<line x1="159.2" y1="401.9" x2="166.9" y2="401.9"/>
<line x1="159.2" y1="239.0" x2="166.9" y2="239.0"/>
<line x1="946.9" y1="639.3" x2="959.0" y2="639.3"/>
<line x1="946.9" y1="559.0" x2="954.8" y2="559.0"/>
<line x1="946.9" y1="478.7" x2="959.0" y2="478.7"/>
<line x1="946.9" y1="398.4" x2="954.8" y2="398.4"/>
<line x1="946.9" y1="318.1" x2="959.0" y2="318.1"/>
<line x1="946.9" y1="237.8" x2="954.8" y2="237.8"/>
<line x1="946.9" y1="157.5" x2="959.0" y2="157.5"/>
</g>
<g stroke="#000" stroke-width="4.8" fill="none">
<line x1="185.8" y1="646.1" x2="185.8" y2="660.6"/>
<line x1="268.7" y1="646.1" x2="268.7" y2="660.6"/>
<line x1="351.6" y1="646.1" x2="351.6" y2="660.6"/>
<line x1="434.4" y1="646.1" x2="434.4" y2="660.6"/>
<line x1="517.3" y1="646.1" x2="517.3" y2="660.6"/>
<line x1="600.2" y1="646.1" x2="600.2" y2="660.6"/>
<line x1="683.1" y1="646.1" x2="683.1" y2="660.6"/>
<line x1="766.0" y1="646.1" x2="766.0" y2="660.6"/>
<line x1="848.8" y1="646.1" x2="848.8" y2="660.6"/>
<line x1="931.7" y1="646.1" x2="931.7" y2="660.6"/>
</g><g stroke="#000" stroke-width="4.3" fill="none">
<line x1="167.4" y1="646.1" x2="167.4" y2="655.6"/>
<line x1="173.0" y1="646.1" x2="173.0" y2="655.6"/>
<line x1="177.8" y1="646.1" x2="177.8" y2="655.6"/>
<line x1="182.0" y1="646.1" x2="182.0" y2="655.6"/>
<line x1="210.7" y1="646.1" x2="210.7" y2="655.6"/>
<line x1="225.3" y1="646.1" x2="225.3" y2="655.6"/>
<line x1="235.7" y1="646.1" x2="235.7" y2="655.6"/>
<line x1="243.7" y1="646.1" x2="243.7" y2="655.6"/>
<line x1="250.3" y1="646.1" x2="250.3" y2="655.6"/>
<line x1="255.8" y1="646.1" x2="255.8" y2="655.6"/>
<line x1="260.6" y1="646.1" x2="260.6" y2="655.6"/>
<line x1="264.9" y1="646.1" x2="264.9" y2="655.6"/>
<line x1="293.6" y1="646.1" x2="293.6" y2="655.6"/>
<line x1="308.2" y1="646.1" x2="308.2" y2="655.6"/>
<line x1="318.6" y1="646.1" x2="318.6" y2="655.6"/>
<line x1="326.6" y1="646.1" x2="326.6" y2="655.6"/>
<line x1="333.2" y1="646.1" x2="333.2" y2="655.6"/>
<line x1="338.7" y1="646.1" x2="338.7" y2="655.6"/>
<line x1="343.5" y1="646.1" x2="343.5" y2="655.6"/>
<line x1="347.8" y1="646.1" x2="347.8" y2="655.6"/>
<line x1="376.5" y1="646.1" x2="376.5" y2="655.6"/>
<line x1="391.1" y1="646.1" x2="391.1" y2="655.6"/>
<line x1="401.5" y1="646.1" x2="401.5" y2="655.6"/>
<line x1="409.5" y1="646.1" x2="409.5" y2="655.6"/>
<line x1="416.1" y1="646.1" x2="416.1" y2="655.6"/>
<line x1="421.6" y1="646.1" x2="421.6" y2="655.6"/>
<line x1="426.4" y1="646.1" x2="426.4" y2="655.6"/>
<line x1="430.6" y1="646.1" x2="430.6" y2="655.6"/>
<line x1="459.4" y1="646.1" x2="459.4" y2="655.6"/>
<line x1="474.0" y1="646.1" x2="474.0" y2="655.6"/>
<line x1="484.3" y1="646.1" x2="484.3" y2="655.6"/>
<line x1="492.4" y1="646.1" x2="492.4" y2="655.6"/>
<line x1="498.9" y1="646.1" x2="498.9" y2="655.6"/>
<line x1="504.5" y1="646.1" x2="504.5" y2="655.6"/>
<line x1="509.3" y1="646.1" x2="509.3" y2="655.6"/>
<line x1="513.5" y1="646.1" x2="513.5" y2="655.6"/>
<line x1="542.3" y1="646.1" x2="542.3" y2="655.6"/>
<line x1="556.9" y1="646.1" x2="556.9" y2="655.6"/>
<line x1="567.2" y1="646.1" x2="567.2" y2="655.6"/>
<line x1="575.3" y1="646.1" x2="575.3" y2="655.6"/>
<line x1="581.8" y1="646.1" x2="581.8" y2="655.6"/>
<line x1="587.4" y1="646.1" x2="587.4" y2="655.6"/>
<line x1="592.2" y1="646.1" x2="592.2" y2="655.6"/>
<line x1="596.4" y1="646.1" x2="596.4" y2="655.6"/>
<line x1="625.1" y1="646.1" x2="625.1" y2="655.6"/>
<line x1="639.7" y1="646.1" x2="639.7" y2="655.6"/>
<line x1="650.1" y1="646.1" x2="650.1" y2="655.6"/>
<line x1="658.1" y1="646.1" x2="658.1" y2="655.6"/>
<line x1="664.7" y1="646.1" x2="664.7" y2="655.6"/>
<line x1="670.2" y1="646.1" x2="670.2" y2="655.6"/>
<line x1="675.0" y1="646.1" x2="675.0" y2="655.6"/>
<line x1="679.3" y1="646.1" x2="679.3" y2="655.6"/>
<line x1="708.0" y1="646.1" x2="708.0" y2="655.6"/>
<line x1="722.6" y1="646.1" x2="722.6" y2="655.6"/>
<line x1="733.0" y1="646.1" x2="733.0" y2="655.6"/>
<line x1="741.0" y1="646.1" x2="741.0" y2="655.6"/>
<line x1="747.6" y1="646.1" x2="747.6" y2="655.6"/>
<line x1="753.1" y1="646.1" x2="753.1" y2="655.6"/>
<line x1="757.9" y1="646.1" x2="757.9" y2="655.6"/>
<line x1="762.2" y1="646.1" x2="762.2" y2="655.6"/>
<line x1="790.9" y1="646.1" x2="790.9" y2="655.6"/>
<line x1="805.5" y1="646.1" x2="805.5" y2="655.6"/>
<line x1="815.9" y1="646.1" x2="815.9" y2="655.6"/>
<line x1="823.9" y1="646.1" x2="823.9" y2="655.6"/>
<line x1="830.5" y1="646.1" x2="830.5" y2="655.6"/>
<line x1="836.0" y1="646.1" x2="836.0" y2="655.6"/>
<line x1="840.8" y1="646.1" x2="840.8" y2="655.6"/>
<line x1="845.0" y1="646.1" x2="845.0" y2="655.6"/>
<line x1="873.8" y1="646.1" x2="873.8" y2="655.6"/>
<line x1="888.4" y1="646.1" x2="888.4" y2="655.6"/>
<line x1="898.7" y1="646.1" x2="898.7" y2="655.6"/>
<line x1="906.8" y1="646.1" x2="906.8" y2="655.6"/>
<line x1="913.3" y1="646.1" x2="913.3" y2="655.6"/>
<line x1="918.9" y1="646.1" x2="918.9" y2="655.6"/>
<line x1="923.7" y1="646.1" x2="923.7" y2="655.6"/>
<line x1="927.9" y1="646.1" x2="927.9" y2="655.6"/>
</g>
<g font-family="Liberation Sans, sans-serif" font-weight="bold" fill="#000">
<text x="4.5" y="59.0" font-size="64">(a)</text>
<text transform="translate(146.3 659.1) scale(1 1.040)" font-size="44" text-anchor="end">2</text>
<text transform="translate(146.3 496.2) scale(1 1.040)" font-size="44" text-anchor="end">4</text>
<text transform="translate(146.3 333.3) scale(1 1.040)" font-size="44" text-anchor="end">6</text>
<text transform="translate(146.3 170.4) scale(1 1.040)" font-size="44" text-anchor="end">8</text>
<text transform="translate(964.6 649.4) scale(1 1.040)" font-size="44">0.0</text>
<text transform="translate(964.6 488.8) scale(1 1.040)" font-size="44">0.2</text>
<text transform="translate(964.6 328.2) scale(1 1.040)" font-size="44">0.4</text>
<text transform="translate(964.6 167.6) scale(1 1.040)" font-size="44">0.6</text>
<text transform="translate(270.8 708.9) scale(0.965 1.040)" font-size="44" text-anchor="middle">10<tspan font-size="28.5" dy="-18.1" dx="-0.8">−</tspan><tspan font-size="28.5" dx="-1.2">1</tspan></text>
<text transform="translate(435.0 708.9) scale(0.965 1.040)" font-size="44" text-anchor="middle">10<tspan font-size="28.5" dy="-21.3" dx="-0.8">1</tspan></text>
<text transform="translate(600.8 708.9) scale(0.965 1.040)" font-size="44" text-anchor="middle">10<tspan font-size="28.5" dy="-21.3" dx="-0.8">3</tspan></text>
<text transform="translate(766.6 708.9) scale(0.965 1.040)" font-size="44" text-anchor="middle">10<tspan font-size="28.5" dy="-21.3" dx="-0.8">5</tspan></text>
<text transform="translate(932.3 708.9) scale(0.965 1.040)" font-size="44" text-anchor="middle">10<tspan font-size="28.5" dy="-21.3" dx="-0.8">7</tspan></text>
<text transform="translate(556.9 764.4) scale(1 1.040)" font-size="45" text-anchor="middle" textLength="323.2" lengthAdjust="spacingAndGlyphs">Frequency (Hz)</text>
<text transform="translate(89.6 357.7) rotate(-90) scale(1 1.040)" font-size="44.8" text-anchor="middle" textLength="315.5" lengthAdjust="spacingAndGlyphs">Permittivity (<tspan font-style="italic">ε</tspan>')</text>
<text transform="translate(1052.2 352.5) rotate(90) scale(1 1.040)" font-size="45" text-anchor="middle" textLength="240" lengthAdjust="spacingAndGlyphs">Losses (<tspan font-style="italic">ε</tspan>'')</text>
</g>
<line x1="671" y1="111.8" x2="740.3" y2="111.8" stroke="#000000" stroke-width="5.2" stroke-linecap="round"/>
<circle cx="705.9" cy="111.8" r="8.15" fill="#000000"/>
<text transform="translate(749.3 122.8) scale(1 1.04)" font-size="33.5" textLength="93.0" lengthAdjust="spacingAndGlyphs" font-family="Liberation Sans, sans-serif" font-weight="bold" fill="#000">CSNP</text>
<line x1="671" y1="154.3" x2="740.3" y2="154.3" stroke="#0000ff" stroke-width="5.2" stroke-linecap="round"/>
<rect x="698.4" y="146.8" width="15" height="15" rx="1" fill="#0000ff"/>
<text transform="translate(747.6 164.6) scale(1 1.04)" font-size="33.5" textLength="147.4" lengthAdjust="spacingAndGlyphs" font-family="Liberation Sans, sans-serif" font-weight="bold" fill="#000">PT-CSNP</text>
<line x1="671" y1="196.8" x2="740.3" y2="196.8" stroke="#ff8000" stroke-width="5.2" stroke-linecap="round"/>
<polygon points="695.7,190.7 716.1,190.7 705.9,208.9" fill="#ff8000"/>
<text transform="translate(748.9 206.5) scale(1 1.04)" font-size="33.5" textLength="166.1" lengthAdjust="spacingAndGlyphs" font-family="Liberation Sans, sans-serif" font-weight="bold" fill="#000">PPy-CSNP</text>
<line x1="671" y1="239.3" x2="740.3" y2="239.3" stroke="#008000" stroke-width="5.2" stroke-linecap="round"/>
<polygon points="695.7,245.4 716.1,245.4 705.9,227.2" fill="#008000"/>
<text transform="translate(748.5 248.3) scale(1 1.04)" font-size="33.5" textLength="184.7" lengthAdjust="spacingAndGlyphs" font-family="Liberation Sans, sans-serif" font-weight="bold" fill="#000">PANI-CSNP</text>
<path d="M183.7 1438.1 L191.7 1438.1 L199.7 1438.1 L207.7 1438.1 L215.7 1438.1 L223.7 1438.1 L231.7 1438.1 L239.7 1438.1 L247.7 1438.1 L255.7 1438.1 L263.7 1438.1 L264.7 1438.1 L265.7 1438.1 L266.7 1438.1 L267.7 1438.1 L268.7 1438.1 L269.7 1438.1 L270.7 1438.1 L271.7 1438.1 L272.7 1438.1 L273.7 1438.1 L274.7 1438.1 L275.7 1438.1 L276.7 1438.1 L277.7 1438.1 L278.7 1438.1 L279.7 1438.1 L280.7 1438.1 L281.7 1438.1 L282.7 1438.1 L283.7 1438.0 L284.7 1438.0 L285.7 1438.0 L286.7 1438.0 L287.7 1438.0 L288.7 1438.0 L289.7 1438.0 L290.7 1437.9 L291.7 1437.9 L292.7 1437.9 L293.7 1437.9 L294.7 1437.8 L295.7 1437.8 L296.7 1437.8 L297.7 1437.7 L298.7 1437.7 L299.7 1437.6 L300.7 1437.5 L301.7 1437.5 L302.7 1437.4 L303.7 1437.3 L304.7 1437.2 L305.7 1437.1 L306.7 1437.0 L307.7 1436.8 L308.7 1436.7 L309.7 1436.5 L310.7 1436.3 L311.7 1436.1 L312.7 1435.8 L313.7 1435.6 L314.7 1435.3 L315.7 1434.9 L316.7 1434.6 L317.7 1434.2 L318.7 1433.8 L319.7 1433.3 L320.7 1432.8 L321.7 1432.2 L322.7 1431.6 L323.7 1430.9 L324.7 1430.2 L325.7 1429.4 L326.7 1428.5 L327.7 1427.6 L328.7 1426.6 L329.7 1425.5 L330.7 1424.3 L331.7 1423.0 L332.7 1421.6 L333.7 1420.1 L334.7 1418.5 L335.7 1416.7 L336.7 1414.9 L337.7 1412.9 L338.7 1410.7 L339.7 1408.4 L340.7 1406.0 L341.7 1403.4 L342.7 1400.6 L343.7 1397.7 L344.7 1394.6 L345.7 1391.3 L346.7 1387.7 L347.7 1384.0 L348.7 1380.1 L349.7 1376.0 L350.7 1371.6 L351.7 1367.1 L352.7 1362.3 L353.7 1357.2 L354.7 1352.0 L355.7 1346.4 L356.7 1340.7 L357.7 1334.7 L358.7 1328.5 L359.7 1322.0 L360.7 1315.3 L361.7 1308.3 L362.7 1301.1 L363.7 1293.7 L364.7 1286.0 L365.7 1278.1 L366.7 1270.0 L367.7 1261.7 L368.7 1253.2 L369.7 1244.5 L370.7 1235.6 L371.7 1226.6 L372.7 1217.4 L373.7 1208.0 L374.7 1198.6 L375.7 1189.0 L376.7 1179.3 L377.7 1169.6 L378.7 1159.9 L379.7 1150.1 L380.7 1140.3 L381.7 1130.5 L382.7 1120.8 L383.7 1111.1 L384.7 1101.5 L385.7 1092.1 L386.7 1082.7 L387.7 1073.6 L388.7 1064.6 L389.7 1055.8 L390.7 1047.3 L391.7 1039.1 L392.7 1031.1 L393.7 1023.5 L394.7 1016.2 L395.7 1009.2 L396.7 1002.7 L397.7 996.5 L398.7 990.8 L399.7 985.5 L400.7 980.7 L401.7 976.3 L402.7 972.5 L403.7 969.1 L404.7 966.2 L405.7 963.9 L406.7 962.1 L407.7 960.9 L408.7 960.2 L409.7 960.0 L410.7 960.4 L411.7 961.3 L412.7 962.8 L413.7 964.8 L414.7 967.3 L415.7 970.4 L416.7 973.9 L417.7 978.0 L418.7 982.5 L419.7 987.6 L420.7 993.0 L421.7 998.9 L422.7 1005.3 L423.7 1012.0 L424.7 1019.1 L425.7 1026.5 L426.7 1034.3 L427.7 1042.3 L428.7 1050.7 L429.7 1059.3 L430.7 1068.2 L431.7 1077.2 L432.7 1086.4 L433.7 1095.8 L434.7 1105.3 L435.7 1115.0 L436.7 1124.7 L437.7 1134.4 L438.7 1144.2 L439.7 1154.0 L440.7 1163.8 L441.7 1173.5 L442.7 1183.2 L443.7 1192.8 L444.7 1202.4 L445.7 1211.8 L446.7 1221.1 L447.7 1230.2 L448.7 1239.2 L449.7 1248.0 L450.7 1256.6 L451.7 1265.1 L452.7 1273.3 L453.7 1281.3 L454.7 1289.1 L455.7 1296.7 L456.7 1304.0 L457.7 1311.1 L458.7 1318.0 L459.7 1324.6 L460.7 1331.0 L461.7 1337.1 L462.7 1343.0 L463.7 1348.7 L464.7 1354.1 L465.7 1359.3 L466.7 1364.2 L467.7 1368.9 L468.7 1373.4 L469.7 1377.7 L470.7 1381.7 L471.7 1385.5 L472.7 1389.2 L473.7 1392.6 L474.7 1395.8 L475.7 1398.9 L476.7 1401.8 L477.7 1404.5 L478.7 1407.0 L479.7 1409.4 L480.7 1411.6 L481.7 1413.7 L482.7 1415.6 L483.7 1417.4 L484.7 1419.1 L485.7 1420.7 L486.7 1422.2 L487.7 1423.5 L488.7 1424.8 L489.7 1425.9 L490.7 1427.0 L491.7 1428.0 L492.7 1428.9 L493.7 1429.7 L494.7 1430.5 L495.7 1431.2 L496.7 1431.9 L497.7 1432.5 L498.7 1433.0 L499.7 1433.5 L500.7 1433.9 L501.7 1434.4 L502.7 1434.7 L503.7 1435.1 L504.7 1435.4 L505.7 1435.7 L506.7 1435.9 L507.7 1436.2 L508.7 1436.4 L509.7 1436.5 L510.7 1436.7 L511.7 1436.9 L512.7 1437.0 L513.7 1437.1 L514.7 1437.2 L515.7 1437.3 L516.7 1437.4 L517.7 1437.5 L518.7 1437.6 L519.7 1437.6 L520.7 1437.7 L521.7 1437.7 L522.7 1437.8 L523.7 1437.8 L524.7 1437.9 L525.7 1437.9 L526.7 1437.9 L527.7 1437.9 L528.7 1438.0 L529.7 1438.0 L530.7 1438.0 L531.7 1438.0 L532.7 1438.0 L533.7 1438.0 L534.7 1438.0 L535.7 1438.0 L536.7 1438.1 L537.7 1438.1 L538.7 1438.1 L539.7 1438.1 L540.7 1438.1 L541.7 1438.1 L542.7 1438.1 L543.7 1438.1 L544.7 1438.1 L545.7 1438.1 L546.7 1438.1 L547.7 1438.1 L548.7 1438.1 L549.7 1438.1 L550.7 1438.1 L551.7 1438.1 L552.7 1438.1 L553.7 1438.1 L554.7 1438.1 L555.7 1438.1 L556.7 1438.1 L557.7 1438.1 L558.7 1438.1 L559.7 1438.1 L567.7 1438.1 L575.7 1438.1 L583.7 1438.1 L591.7 1438.1 L599.7 1438.1 L607.7 1438.1 L615.7 1438.1 L623.7 1438.1 L631.7 1438.1 L639.7 1438.1 L647.7 1438.1 L655.7 1438.1 L663.7 1438.1 L671.7 1438.1 L679.7 1438.1 L687.7 1438.1 L695.7 1438.1 L703.7 1438.1 L711.7 1438.1 L719.7 1438.1 L727.7 1438.1 L735.7 1438.1 L743.7 1438.1 L751.7 1438.1 L759.7 1438.1 L767.7 1438.1 L775.7 1438.1 L783.7 1438.1 L791.7 1438.1 L799.7 1438.1 L807.7 1438.1 L815.7 1438.1 L823.7 1438.1 L831.7 1438.1 L839.7 1438.1 L847.7 1438.1 L855.7 1438.1 L863.7 1438.1 L871.7 1438.1 L879.7 1438.1 L887.7 1438.1 L895.7 1438.1 L903.7 1438.1 L911.7 1438.1 L919.7 1438.1 L927.7 1438.1 L935.7 1438.1 L943.7 1438.1 L945.2 1438.1" fill="none" stroke="#ff8000" stroke-width="4.8" stroke-linejoin="round" stroke-linecap="butt" stroke-dasharray="10.3 8.3"/>
<path d="M184.6 1438.1 L192.6 1438.1 L200.6 1438.1 L208.6 1438.1 L216.6 1438.1 L224.6 1438.1 L232.6 1438.1 L240.6 1438.1 L248.6 1438.1 L256.6 1438.1 L257.6 1438.1 L258.6 1438.1 L259.6 1438.1 L260.6 1438.1 L261.6 1438.1 L262.6 1438.1 L263.6 1438.1 L264.6 1438.1 L265.6 1438.1 L266.6 1438.1 L267.6 1438.1 L268.6 1438.1 L269.6 1438.1 L270.6 1438.1 L271.6 1438.1 L272.6 1438.1 L273.6 1438.1 L274.6 1438.1 L275.6 1438.0 L276.6 1438.0 L277.6 1438.0 L278.6 1438.0 L279.6 1438.0 L280.6 1438.0 L281.6 1438.0 L282.6 1438.0 L283.6 1438.0 L284.6 1437.9 L285.6 1437.9 L286.6 1437.9 L287.6 1437.9 L288.6 1437.8 L289.6 1437.8 L290.6 1437.7 L291.6 1437.7 L292.6 1437.6 L293.6 1437.6 L294.6 1437.5 L295.6 1437.4 L296.6 1437.4 L297.6 1437.3 L298.6 1437.2 L299.6 1437.1 L300.6 1436.9 L301.6 1436.8 L302.6 1436.7 L303.6 1436.5 L304.6 1436.3 L305.6 1436.1 L306.6 1435.9 L307.6 1435.6 L308.6 1435.4 L309.6 1435.1 L310.6 1434.7 L311.6 1434.4 L312.6 1434.0 L313.6 1433.6 L314.6 1433.1 L315.6 1432.6 L316.6 1432.0 L317.6 1431.4 L318.6 1430.8 L319.6 1430.1 L320.6 1429.3 L321.6 1428.5 L322.6 1427.6 L323.6 1426.6 L324.6 1425.6 L325.6 1424.5 L326.6 1423.2 L327.6 1422.0 L328.6 1420.6 L329.6 1419.1 L330.6 1417.5 L331.6 1415.8 L332.6 1414.0 L333.6 1412.1 L334.6 1410.0 L335.6 1407.8 L336.6 1405.5 L337.6 1403.1 L338.6 1400.5 L339.6 1397.7 L340.6 1394.8 L341.6 1391.8 L342.6 1388.5 L343.6 1385.2 L344.6 1381.6 L345.6 1377.9 L346.6 1374.0 L347.6 1369.9 L348.6 1365.6 L349.6 1361.1 L350.6 1356.5 L351.6 1351.7 L352.6 1346.7 L353.6 1341.5 L354.6 1336.1 L355.6 1330.5 L356.6 1324.8 L357.6 1318.9 L358.6 1312.8 L359.6 1306.5 L360.6 1300.0 L361.6 1293.5 L362.6 1286.7 L363.6 1279.8 L364.6 1272.8 L365.6 1265.7 L366.6 1258.4 L367.6 1251.1 L368.6 1243.6 L369.6 1236.1 L370.6 1228.5 L371.6 1220.8 L372.6 1213.2 L373.6 1205.5 L374.6 1197.8 L375.6 1190.1 L376.6 1182.4 L377.6 1174.8 L378.6 1167.3 L379.6 1159.8 L380.6 1152.5 L381.6 1145.2 L382.6 1138.1 L383.6 1131.2 L384.6 1124.5 L385.6 1117.9 L386.6 1111.6 L387.6 1105.5 L388.6 1099.6 L389.6 1094.1 L390.6 1088.8 L391.6 1083.8 L392.6 1079.1 L393.6 1074.8 L394.6 1070.8 L395.6 1067.1 L396.6 1063.9 L397.6 1061.0 L398.6 1058.5 L399.6 1056.4 L400.6 1054.7 L401.6 1053.4 L402.6 1052.5 L403.6 1052.1 L404.6 1052.0 L405.6 1052.4 L406.6 1053.2 L407.6 1054.4 L408.6 1056.0 L409.6 1058.0 L410.6 1060.5 L411.6 1063.3 L412.6 1066.5 L413.6 1070.0 L414.6 1073.9 L415.6 1078.2 L416.6 1082.8 L417.6 1087.7 L418.6 1093.0 L419.6 1098.5 L420.6 1104.3 L421.6 1110.3 L422.6 1116.6 L423.6 1123.1 L424.6 1129.8 L425.6 1136.7 L426.6 1143.8 L427.6 1151.0 L428.6 1158.3 L429.6 1165.8 L430.6 1173.3 L431.6 1180.9 L432.6 1188.5 L433.6 1196.2 L434.6 1203.9 L435.6 1211.6 L436.6 1219.3 L437.6 1227.0 L438.6 1234.6 L439.6 1242.1 L440.6 1249.6 L441.6 1257.0 L442.6 1264.2 L443.6 1271.4 L444.6 1278.4 L445.6 1285.4 L446.6 1292.1 L447.6 1298.7 L448.6 1305.2 L449.6 1311.5 L450.6 1317.6 L451.6 1323.6 L452.6 1329.4 L453.6 1335.0 L454.6 1340.4 L455.6 1345.6 L456.6 1350.7 L457.6 1355.6 L458.6 1360.2 L459.6 1364.7 L460.6 1369.0 L461.6 1373.2 L462.6 1377.1 L463.6 1380.9 L464.6 1384.5 L465.6 1387.9 L466.6 1391.1 L467.6 1394.2 L468.6 1397.2 L469.6 1399.9 L470.6 1402.6 L471.6 1405.0 L472.6 1407.4 L473.6 1409.6 L474.6 1411.7 L475.6 1413.6 L476.6 1415.5 L477.6 1417.2 L478.6 1418.8 L479.6 1420.3 L480.6 1421.7 L481.6 1423.0 L482.6 1424.2 L483.6 1425.4 L484.6 1426.4 L485.6 1427.4 L486.6 1428.3 L487.6 1429.1 L488.6 1429.9 L489.6 1430.6 L490.6 1431.3 L491.6 1431.9 L492.6 1432.5 L493.6 1433.0 L494.6 1433.5 L495.6 1433.9 L496.6 1434.3 L497.6 1434.7 L498.6 1435.0 L499.6 1435.3 L500.6 1435.6 L501.6 1435.8 L502.6 1436.1 L503.6 1436.3 L504.6 1436.4 L505.6 1436.6 L506.6 1436.8 L507.6 1436.9 L508.6 1437.0 L509.6 1437.2 L510.6 1437.3 L511.6 1437.3 L512.6 1437.4 L513.6 1437.5 L514.6 1437.6 L515.6 1437.6 L516.6 1437.7 L517.6 1437.7 L518.6 1437.8 L519.6 1437.8 L520.6 1437.8 L521.6 1437.9 L522.6 1437.9 L523.6 1437.9 L524.6 1437.9 L525.6 1438.0 L526.6 1438.0 L527.6 1438.0 L528.6 1438.0 L529.6 1438.0 L530.6 1438.0 L531.6 1438.0 L532.6 1438.0 L533.6 1438.1 L534.6 1438.1 L535.6 1438.1 L536.6 1438.1 L537.6 1438.1 L538.6 1438.1 L539.6 1438.1 L540.6 1438.1 L541.6 1438.1 L542.6 1438.1 L543.6 1438.1 L544.6 1438.1 L545.6 1438.1 L546.6 1438.1 L547.6 1438.1 L548.6 1438.1 L549.6 1438.1 L550.6 1438.1 L551.6 1438.1 L552.6 1438.1 L553.6 1438.1 L554.6 1438.1 L562.6 1438.1 L570.6 1438.1 L578.6 1438.1 L586.6 1438.1 L594.6 1438.1 L602.6 1438.1 L610.6 1438.1 L618.6 1438.1 L626.6 1438.1 L634.6 1438.1 L642.6 1438.1 L650.6 1438.1 L658.6 1438.1 L666.6 1438.1 L674.6 1438.1 L682.6 1438.1 L690.6 1438.1 L698.6 1438.1 L706.6 1438.1 L714.6 1438.1 L722.6 1438.1 L730.6 1438.1 L738.6 1438.1 L746.6 1438.1 L754.6 1438.1 L762.6 1438.1 L770.6 1438.1 L778.6 1438.1 L786.6 1438.1 L794.6 1438.1 L802.6 1438.1 L810.6 1438.1 L818.6 1438.1 L826.6 1438.1 L834.6 1438.1 L842.6 1438.1 L850.6 1438.1 L858.6 1438.1 L866.6 1438.1 L874.6 1438.1 L882.6 1438.1 L890.6 1438.1 L898.6 1438.1 L906.6 1438.1 L914.6 1438.1 L922.6 1438.1 L930.6 1438.1 L938.6 1438.1 L945.2 1438.1" fill="none" stroke="#008000" stroke-width="4.8" stroke-linejoin="round" stroke-linecap="butt" stroke-dasharray="10.3 8.3"/>
<path d="M184.6 1438.1 L192.6 1438.1 L200.6 1438.1 L208.6 1438.1 L216.6 1438.1 L224.6 1438.1 L232.6 1438.1 L240.6 1438.1 L248.6 1438.1 L256.6 1438.1 L264.6 1438.1 L272.6 1438.1 L273.6 1438.1 L274.6 1438.1 L275.6 1438.1 L276.6 1438.1 L277.6 1438.1 L278.6 1438.1 L279.6 1438.1 L280.6 1438.1 L281.6 1438.1 L282.6 1438.0 L283.6 1438.0 L284.6 1438.0 L285.6 1438.0 L286.6 1438.0 L287.6 1438.0 L288.6 1438.0 L289.6 1438.0 L290.6 1437.9 L291.6 1437.9 L292.6 1437.9 L293.6 1437.9 L294.6 1437.8 L295.6 1437.8 L296.6 1437.8 L297.6 1437.7 L298.6 1437.7 L299.6 1437.6 L300.6 1437.6 L301.6 1437.5 L302.6 1437.4 L303.6 1437.3 L304.6 1437.2 L305.6 1437.1 L306.6 1437.0 L307.6 1436.9 L308.6 1436.8 L309.6 1436.6 L310.6 1436.4 L311.6 1436.2 L312.6 1436.0 L313.6 1435.8 L314.6 1435.5 L315.6 1435.2 L316.6 1434.9 L317.6 1434.6 L318.6 1434.2 L319.6 1433.8 L320.6 1433.3 L321.6 1432.8 L322.6 1432.3 L323.6 1431.7 L324.6 1431.1 L325.6 1430.4 L326.6 1429.6 L327.6 1428.8 L328.6 1427.9 L329.6 1426.9 L330.6 1425.9 L331.6 1424.8 L332.6 1423.6 L333.6 1422.3 L334.6 1420.9 L335.6 1419.3 L336.6 1417.7 L337.6 1416.0 L338.6 1414.1 L339.6 1412.1 L340.6 1410.0 L341.6 1407.7 L342.6 1405.3 L343.6 1402.7 L344.6 1400.0 L345.6 1397.1 L346.6 1394.0 L347.6 1390.7 L348.6 1387.3 L349.6 1383.6 L350.6 1379.8 L351.6 1375.7 L352.6 1371.4 L353.6 1366.9 L354.6 1362.2 L355.6 1357.3 L356.6 1352.1 L357.6 1346.7 L358.6 1341.0 L359.6 1335.1 L360.6 1329.0 L361.6 1322.6 L362.6 1316.0 L363.6 1309.1 L364.6 1301.9 L365.6 1294.6 L366.6 1286.9 L367.6 1279.1 L368.6 1271.0 L369.6 1262.7 L370.6 1254.1 L371.6 1245.4 L372.6 1236.4 L373.6 1227.2 L374.6 1217.9 L375.6 1208.4 L376.6 1198.7 L377.6 1188.8 L378.6 1178.9 L379.6 1168.8 L380.6 1158.6 L381.6 1148.3 L382.6 1137.9 L383.6 1127.6 L384.6 1117.1 L385.6 1106.7 L386.6 1096.3 L387.6 1086.0 L388.6 1075.7 L389.6 1065.5 L390.6 1055.4 L391.6 1045.4 L392.6 1035.6 L393.6 1026.0 L394.6 1016.6 L395.6 1007.4 L396.6 998.5 L397.6 989.8 L398.6 981.5 L399.6 973.5 L400.6 965.8 L401.6 958.5 L402.6 951.7 L403.6 945.2 L404.6 939.2 L405.6 933.6 L406.6 928.4 L407.6 923.8 L408.6 919.7 L409.6 916.0 L410.6 912.9 L411.6 910.4 L412.6 908.3 L413.6 906.8 L414.6 905.9 L415.6 905.5 L416.6 905.7 L417.6 906.5 L418.6 907.9 L419.6 910.0 L420.6 912.6 L421.6 915.8 L422.6 919.7 L423.6 924.0 L424.6 929.0 L425.6 934.5 L426.6 940.5 L427.6 947.0 L428.6 954.0 L429.6 961.4 L430.6 969.3 L431.6 977.6 L432.6 986.2 L433.6 995.2 L434.6 1004.6 L435.6 1014.2 L436.6 1024.1 L437.6 1034.3 L438.6 1044.6 L439.6 1055.2 L440.6 1065.9 L441.6 1076.7 L442.6 1087.6 L443.6 1098.5 L444.6 1109.5 L445.6 1120.6 L446.6 1131.6 L447.6 1142.6 L448.6 1153.5 L449.6 1164.3 L450.6 1175.0 L451.6 1185.6 L452.6 1196.1 L453.6 1206.4 L454.6 1216.5 L455.6 1226.4 L456.6 1236.1 L457.6 1245.6 L458.6 1254.8 L459.6 1263.9 L460.6 1272.6 L461.6 1281.1 L462.6 1289.4 L463.6 1297.3 L464.6 1305.0 L465.6 1312.5 L466.6 1319.6 L467.6 1326.5 L468.6 1333.1 L469.6 1339.4 L470.6 1345.5 L471.6 1351.2 L472.6 1356.8 L473.6 1362.0 L474.6 1367.0 L475.6 1371.7 L476.6 1376.2 L477.6 1380.5 L478.6 1384.5 L479.6 1388.3 L480.6 1391.9 L481.6 1395.3 L482.6 1398.5 L483.6 1401.5 L484.6 1404.3 L485.6 1406.9 L486.6 1409.4 L487.6 1411.6 L488.6 1413.8 L489.6 1415.8 L490.6 1417.6 L491.6 1419.3 L492.6 1420.9 L493.6 1422.4 L494.6 1423.8 L495.6 1425.0 L496.6 1426.2 L497.6 1427.3 L498.6 1428.3 L499.6 1429.2 L500.6 1430.0 L501.6 1430.8 L502.6 1431.5 L503.6 1432.1 L504.6 1432.7 L505.6 1433.2 L506.6 1433.7 L507.6 1434.2 L508.6 1434.6 L509.6 1434.9 L510.6 1435.3 L511.6 1435.6 L512.6 1435.8 L513.6 1436.1 L514.6 1436.3 L515.6 1436.5 L516.6 1436.7 L517.6 1436.8 L518.6 1437.0 L519.6 1437.1 L520.6 1437.2 L521.6 1437.3 L522.6 1437.4 L523.6 1437.5 L524.6 1437.6 L525.6 1437.6 L526.6 1437.7 L527.6 1437.7 L528.6 1437.8 L529.6 1437.8 L530.6 1437.9 L531.6 1437.9 L532.6 1437.9 L533.6 1437.9 L534.6 1438.0 L535.6 1438.0 L536.6 1438.0 L537.6 1438.0 L538.6 1438.0 L539.6 1438.0 L540.6 1438.0 L541.6 1438.0 L542.6 1438.1 L543.6 1438.1 L544.6 1438.1 L545.6 1438.1 L546.6 1438.1 L547.6 1438.1 L548.6 1438.1 L549.6 1438.1 L550.6 1438.1 L551.6 1438.1 L552.6 1438.1 L553.6 1438.1 L554.6 1438.1 L555.6 1438.1 L556.6 1438.1 L557.6 1438.1 L558.6 1438.1 L559.6 1438.1 L560.6 1438.1 L561.6 1438.1 L562.6 1438.1 L563.6 1438.1 L564.6 1438.1 L565.6 1438.1 L566.6 1438.1 L574.6 1438.1 L582.6 1438.1 L590.6 1438.1 L598.6 1438.1 L606.6 1438.1 L614.6 1438.1 L622.6 1438.1 L630.6 1438.1 L638.6 1438.1 L646.6 1438.1 L654.6 1438.1 L662.6 1438.1 L670.6 1438.1 L678.6 1438.1 L686.6 1438.1 L694.6 1438.1 L702.6 1438.1 L710.6 1438.1 L718.6 1438.1 L726.6 1438.1 L734.6 1438.1 L742.6 1438.1 L750.6 1438.1 L758.6 1438.1 L766.6 1438.1 L774.6 1438.1 L782.6 1438.1 L790.6 1438.1 L798.6 1438.1 L806.6 1438.1 L814.6 1438.1 L822.6 1438.1 L830.6 1438.1 L838.6 1438.1 L846.6 1438.1 L854.6 1438.1 L862.6 1438.1 L870.6 1438.1 L878.6 1438.1 L886.6 1438.1 L894.6 1438.1 L902.6 1438.1 L910.6 1438.1 L918.6 1438.1 L926.6 1438.1 L934.6 1438.1 L942.6 1438.1 L945.2 1438.1" fill="none" stroke="#0000ff" stroke-width="4.8" stroke-linejoin="round" stroke-linecap="butt" stroke-dasharray="10.3 8.3"/>
<path d="M184.6 1440.1 L192.6 1440.1 L200.6 1440.1 L208.6 1440.1 L216.6 1440.1 L224.6 1440.1 L232.6 1440.1 L240.6 1440.1 L248.6 1440.1 L249.6 1440.1 L250.6 1440.1 L251.6 1440.1 L252.6 1440.1 L253.6 1440.1 L254.6 1440.0 L255.6 1440.0 L256.6 1440.0 L257.6 1440.0 L258.6 1440.0 L259.6 1440.0 L260.6 1440.0 L261.6 1440.0 L262.6 1440.0 L263.6 1439.9 L264.6 1439.9 L265.6 1439.9 L266.6 1439.9 L267.6 1439.9 L268.6 1439.8 L269.6 1439.8 L270.6 1439.8 L271.6 1439.7 L272.6 1439.7 L273.6 1439.6 L274.6 1439.6 L275.6 1439.5 L276.6 1439.4 L277.6 1439.4 L278.6 1439.3 L279.6 1439.2 L280.6 1439.1 L281.6 1439.0 L282.6 1438.9 L283.6 1438.8 L284.6 1438.6 L285.6 1438.5 L286.6 1438.3 L287.6 1438.1 L288.6 1437.9 L289.6 1437.7 L290.6 1437.5 L291.6 1437.2 L292.6 1437.0 L293.6 1436.7 L294.6 1436.3 L295.6 1436.0 L296.6 1435.6 L297.6 1435.2 L298.6 1434.8 L299.6 1434.3 L300.6 1433.8 L301.6 1433.2 L302.6 1432.6 L303.6 1432.0 L304.6 1431.3 L305.6 1430.6 L306.6 1429.8 L307.6 1429.0 L308.6 1428.1 L309.6 1427.2 L310.6 1426.1 L311.6 1425.1 L312.6 1423.9 L313.6 1422.7 L314.6 1421.4 L315.6 1420.1 L316.6 1418.6 L317.6 1417.1 L318.6 1415.4 L319.6 1413.7 L320.6 1411.9 L321.6 1410.0 L322.6 1408.0 L323.6 1405.9 L324.6 1403.7 L325.6 1401.4 L326.6 1398.9 L327.6 1396.4 L328.6 1393.7 L329.6 1390.9 L330.6 1388.0 L331.6 1385.0 L332.6 1381.9 L333.6 1378.6 L334.6 1375.2 L335.6 1371.7 L336.6 1368.0 L337.6 1364.2 L338.6 1360.3 L339.6 1356.3 L340.6 1352.1 L341.6 1347.8 L342.6 1343.4 L343.6 1338.9 L344.6 1334.2 L345.6 1329.4 L346.6 1324.6 L347.6 1319.6 L348.6 1314.5 L349.6 1309.3 L350.6 1304.0 L351.6 1298.7 L352.6 1293.2 L353.6 1287.7 L354.6 1282.1 L355.6 1276.5 L356.6 1270.8 L357.6 1265.0 L358.6 1259.3 L359.6 1253.5 L360.6 1247.7 L361.6 1241.9 L362.6 1236.0 L363.6 1230.3 L364.6 1224.5 L365.6 1218.8 L366.6 1213.1 L367.6 1207.5 L368.6 1202.0 L369.6 1196.5 L370.6 1191.1 L371.6 1185.9 L372.6 1180.8 L373.6 1175.8 L374.6 1170.9 L375.6 1166.2 L376.6 1161.7 L377.6 1157.4 L378.6 1153.2 L379.6 1149.2 L380.6 1145.5 L381.6 1141.9 L382.6 1138.6 L383.6 1135.6 L384.6 1132.7 L385.6 1130.1 L386.6 1127.8 L387.6 1125.7 L388.6 1123.9 L389.6 1122.4 L390.6 1121.2 L391.6 1120.2 L392.6 1119.5 L393.6 1119.1 L394.6 1119.0 L395.6 1119.2 L396.6 1119.7 L397.6 1120.5 L398.6 1121.5 L399.6 1122.9 L400.6 1124.6 L401.6 1126.6 L402.6 1128.8 L403.6 1131.3 L404.6 1134.1 L405.6 1137.2 L406.6 1140.5 L407.6 1144.1 L408.6 1147.8 L409.6 1151.9 L410.6 1156.1 L411.6 1160.5 L412.6 1165.1 L413.6 1169.9 L414.6 1174.9 L415.6 1180.0 L416.6 1185.3 L417.6 1190.7 L418.6 1196.2 L419.6 1201.8 L420.6 1207.5 L421.6 1213.3 L422.6 1219.1 L423.6 1225.0 L424.6 1231.0 L425.6 1237.0 L426.6 1242.9 L427.6 1248.9 L428.6 1254.9 L429.6 1260.9 L430.6 1266.8 L431.6 1272.7 L432.6 1278.6 L433.6 1284.4 L434.6 1290.1 L435.6 1295.8 L436.6 1301.3 L437.6 1306.8 L438.6 1312.2 L439.6 1317.5 L440.6 1322.7 L441.6 1327.8 L442.6 1332.7 L443.6 1337.5 L444.6 1342.2 L445.6 1346.8 L446.6 1351.3 L447.6 1355.6 L448.6 1359.8 L449.6 1363.8 L450.6 1367.7 L451.6 1371.5 L452.6 1375.1 L453.6 1378.6 L454.6 1382.0 L455.6 1385.3 L456.6 1388.4 L457.6 1391.3 L458.6 1394.2 L459.6 1396.9 L460.6 1399.5 L461.6 1402.0 L462.6 1404.4 L463.6 1406.6 L464.6 1408.7 L465.6 1410.8 L466.6 1412.7 L467.6 1414.5 L468.6 1416.2 L469.6 1417.9 L470.6 1419.4 L471.6 1420.8 L472.6 1422.2 L473.6 1423.5 L474.6 1424.7 L475.6 1425.8 L476.6 1426.9 L477.6 1427.9 L478.6 1428.8 L479.6 1429.7 L480.6 1430.5 L481.6 1431.2 L482.6 1432.0 L483.6 1432.6 L484.6 1433.2 L485.6 1433.8 L486.6 1434.3 L487.6 1434.8 L488.6 1435.2 L489.6 1435.7 L490.6 1436.0 L491.6 1436.4 L492.6 1436.7 L493.6 1437.0 L494.6 1437.3 L495.6 1437.6 L496.6 1437.8 L497.6 1438.0 L498.6 1438.2 L499.6 1438.4 L500.6 1438.5 L501.6 1438.7 L502.6 1438.8 L503.6 1439.0 L504.6 1439.1 L505.6 1439.2 L506.6 1439.3 L507.6 1439.3 L508.6 1439.4 L509.6 1439.5 L510.6 1439.6 L511.6 1439.6 L512.6 1439.7 L513.6 1439.7 L514.6 1439.8 L515.6 1439.8 L516.6 1439.8 L517.6 1439.9 L518.6 1439.9 L519.6 1439.9 L520.6 1439.9 L521.6 1439.9 L522.6 1440.0 L523.6 1440.0 L524.6 1440.0 L525.6 1440.0 L526.6 1440.0 L527.6 1440.0 L528.6 1440.0 L529.6 1440.0 L530.6 1440.1 L531.6 1440.1 L532.6 1440.1 L533.6 1440.1 L534.6 1440.1 L535.6 1440.1 L536.6 1440.1 L537.6 1440.1 L538.6 1440.1 L539.6 1440.1 L540.6 1440.1 L541.6 1440.1 L542.6 1440.1 L543.6 1440.1 L544.6 1440.1 L552.6 1440.1 L560.6 1440.1 L568.6 1440.1 L576.6 1440.1 L584.6 1440.1 L592.6 1440.1 L600.6 1440.1 L608.6 1440.1 L616.6 1440.1 L624.6 1440.1 L632.6 1440.1 L640.6 1440.1 L648.6 1440.1 L656.6 1440.1 L664.6 1440.1 L672.6 1440.1 L680.6 1440.1 L688.6 1440.1 L696.6 1440.1 L704.6 1440.1 L712.6 1440.1 L720.6 1440.1 L728.6 1440.1 L736.6 1440.1 L744.6 1440.1 L752.6 1440.1 L760.6 1440.1 L768.6 1440.1 L776.6 1440.1 L784.6 1440.1 L792.6 1440.1 L800.6 1440.1 L808.6 1440.1 L816.6 1440.1 L824.6 1440.1 L832.6 1440.1 L840.6 1440.1 L848.6 1440.1 L856.6 1440.1 L864.6 1440.1 L872.6 1440.1 L880.6 1440.1 L888.6 1440.1 L896.6 1440.1 L904.6 1440.1 L912.6 1440.1 L920.6 1440.1 L928.6 1440.1 L936.6 1440.1 L944.6 1440.1 L945.2 1440.1" fill="none" stroke="#000000" stroke-width="4.8" stroke-linejoin="round" stroke-linecap="butt" stroke-dasharray="10.3 8.3"/>
<path d="M185.8 1208.6 L202.4 1208.6 L219.0 1208.6 L235.5 1208.6 L252.1 1208.6 L268.7 1208.6 L285.3 1210.5 L301.8 1211.8 L318.4 1213.6 L335.0 1217.3 L351.6 1234.5 L368.1 1250.0 L384.7 1270.9 L401.3 1304.3 L417.9 1335.0 L434.4 1364.5 L451.0 1370.9 L467.6 1371.3 L484.2 1371.3 L500.7 1371.3 L517.3 1371.3 L533.9 1371.3 L550.5 1371.3 L567.0 1371.3 L583.6 1371.3 L600.2 1371.3 L616.8 1371.3 L633.4 1371.3 L649.9 1371.3 L666.5 1371.3 L683.1 1371.3 L699.7 1371.3 L716.2 1371.3 L732.8 1371.3 L749.4 1371.3 L766.0 1371.3 L782.5 1371.3 L799.1 1371.3 L815.7 1371.3 L832.3 1371.3 L848.8 1371.3 L865.4 1371.3 L882.0 1371.3 L898.6 1371.3 L915.1 1371.3 L931.7 1371.3" fill="none" stroke="#000000" stroke-width="5.5" stroke-linejoin="round" stroke-linecap="round"/>
<g><circle cx="185.8" cy="1208.6" r="7.2" fill="#fff" stroke="#000000" stroke-width="5.2"/><circle cx="202.4" cy="1208.6" r="7.2" fill="#fff" stroke="#000000" stroke-width="5.2"/><circle cx="219.0" cy="1208.6" r="7.2" fill="#fff" stroke="#000000" stroke-width="5.2"/><circle cx="235.5" cy="1208.6" r="7.2" fill="#fff" stroke="#000000" stroke-width="5.2"/><circle cx="252.1" cy="1208.6" r="7.2" fill="#fff" stroke="#000000" stroke-width="5.2"/><circle cx="268.7" cy="1208.6" r="7.2" fill="#fff" stroke="#000000" stroke-width="5.2"/><circle cx="285.3" cy="1210.5" r="7.2" fill="#fff" stroke="#000000" stroke-width="5.2"/><circle cx="301.8" cy="1211.8" r="7.2" fill="#fff" stroke="#000000" stroke-width="5.2"/><circle cx="318.4" cy="1213.6" r="7.2" fill="#fff" stroke="#000000" stroke-width="5.2"/><circle cx="335.0" cy="1217.3" r="7.2" fill="#fff" stroke="#000000" stroke-width="5.2"/><circle cx="351.6" cy="1234.5" r="7.2" fill="#fff" stroke="#000000" stroke-width="5.2"/><circle cx="368.1" cy="1250.0" r="7.2" fill="#fff" stroke="#000000" stroke-width="5.2"/><circle cx="384.7" cy="1270.9" r="7.2" fill="#fff" stroke="#000000" stroke-width="5.2"/><circle cx="401.3" cy="1304.3" r="7.2" fill="#fff" stroke="#000000" stroke-width="5.2"/><circle cx="417.9" cy="1335.0" r="7.2" fill="#fff" stroke="#000000" stroke-width="5.2"/><circle cx="434.4" cy="1364.5" r="7.2" fill="#fff" stroke="#000000" stroke-width="5.2"/><circle cx="451.0" cy="1370.9" r="7.2" fill="#fff" stroke="#000000" stroke-width="5.2"/><circle cx="467.6" cy="1371.3" r="7.2" fill="#fff" stroke="#000000" stroke-width="5.2"/><circle cx="484.2" cy="1371.3" r="7.2" fill="#fff" stroke="#000000" stroke-width="5.2"/><circle cx="500.7" cy="1371.3" r="7.2" fill="#fff" stroke="#000000" stroke-width="5.2"/><circle cx="517.3" cy="1371.3" r="7.2" fill="#fff" stroke="#000000" stroke-width="5.2"/><circle cx="533.9" cy="1371.3" r="7.2" fill="#fff" stroke="#000000" stroke-width="5.2"/><circle cx="550.5" cy="1371.3" r="7.2" fill="#fff" stroke="#000000" stroke-width="5.2"/><circle cx="567.0" cy="1371.3" r="7.2" fill="#fff" stroke="#000000" stroke-width="5.2"/><circle cx="583.6" cy="1371.3" r="7.2" fill="#fff" stroke="#000000" stroke-width="5.2"/><circle cx="600.2" cy="1371.3" r="7.2" fill="#fff" stroke="#000000" stroke-width="5.2"/><circle cx="616.8" cy="1371.3" r="7.2" fill="#fff" stroke="#000000" stroke-width="5.2"/><circle cx="633.4" cy="1371.3" r="7.2" fill="#fff" stroke="#000000" stroke-width="5.2"/><circle cx="649.9" cy="1371.3" r="7.2" fill="#fff" stroke="#000000" stroke-width="5.2"/><circle cx="666.5" cy="1371.3" r="7.2" fill="#fff" stroke="#000000" stroke-width="5.2"/><circle cx="683.1" cy="1371.3" r="7.2" fill="#fff" stroke="#000000" stroke-width="5.2"/><circle cx="699.7" cy="1371.3" r="7.2" fill="#fff" stroke="#000000" stroke-width="5.2"/><circle cx="716.2" cy="1371.3" r="7.2" fill="#fff" stroke="#000000" stroke-width="5.2"/><circle cx="732.8" cy="1371.3" r="7.2" fill="#fff" stroke="#000000" stroke-width="5.2"/><circle cx="749.4" cy="1371.3" r="7.2" fill="#fff" stroke="#000000" stroke-width="5.2"/><circle cx="766.0" cy="1371.3" r="7.2" fill="#fff" stroke="#000000" stroke-width="5.2"/><circle cx="782.5" cy="1371.3" r="7.2" fill="#fff" stroke="#000000" stroke-width="5.2"/><circle cx="799.1" cy="1371.3" r="7.2" fill="#fff" stroke="#000000" stroke-width="5.2"/><circle cx="815.7" cy="1371.3" r="7.2" fill="#fff" stroke="#000000" stroke-width="5.2"/><circle cx="832.3" cy="1371.3" r="7.2" fill="#fff" stroke="#000000" stroke-width="5.2"/><circle cx="848.8" cy="1371.3" r="7.2" fill="#fff" stroke="#000000" stroke-width="5.2"/><circle cx="865.4" cy="1371.3" r="7.2" fill="#fff" stroke="#000000" stroke-width="5.2"/><circle cx="882.0" cy="1371.3" r="7.2" fill="#fff" stroke="#000000" stroke-width="5.2"/><circle cx="898.6" cy="1371.3" r="7.2" fill="#fff" stroke="#000000" stroke-width="5.2"/><circle cx="915.1" cy="1371.3" r="7.2" fill="#fff" stroke="#000000" stroke-width="5.2"/><circle cx="931.7" cy="1371.3" r="7.2" fill="#fff" stroke="#000000" stroke-width="5.2"/></g>
<path d="M185.8 919.1 L202.4 919.1 L219.0 919.1 L235.5 919.1 L252.1 919.1 L268.7 919.1 L285.3 919.1 L301.8 919.1 L318.4 919.6 L335.0 921.0 L351.6 924.3 L368.1 933.6 L384.7 951.8 L401.3 987.3 L417.9 1040.0 L434.4 1089.5 L451.0 1128.2 L467.6 1146.2 L484.2 1155.1 L500.7 1159.1 L517.3 1160.5 L533.9 1160.9 L550.5 1160.9 L567.0 1160.9 L583.6 1160.9 L600.2 1160.9 L616.8 1160.9 L633.4 1160.9 L649.9 1160.9 L666.5 1160.9 L683.1 1160.9 L699.7 1160.9 L716.2 1160.9 L732.8 1160.9 L749.4 1160.9 L766.0 1160.9 L782.5 1160.9 L799.1 1160.9 L815.7 1160.9 L832.3 1160.9 L848.8 1160.9 L865.4 1160.9 L882.0 1160.9 L898.6 1160.9 L915.1 1160.9 L931.7 1160.9" fill="none" stroke="#0000ff" stroke-width="5.5" stroke-linejoin="round" stroke-linecap="round"/>
<g><rect x="180.0" y="913.2" width="11.7" height="11.7" fill="#fff" stroke="#0000ff" stroke-width="5.1"/><rect x="196.5" y="913.2" width="11.7" height="11.7" fill="#fff" stroke="#0000ff" stroke-width="5.1"/><rect x="213.1" y="913.2" width="11.7" height="11.7" fill="#fff" stroke="#0000ff" stroke-width="5.1"/><rect x="229.7" y="913.2" width="11.7" height="11.7" fill="#fff" stroke="#0000ff" stroke-width="5.1"/><rect x="246.3" y="913.2" width="11.7" height="11.7" fill="#fff" stroke="#0000ff" stroke-width="5.1"/><rect x="262.8" y="913.2" width="11.7" height="11.7" fill="#fff" stroke="#0000ff" stroke-width="5.1"/><rect x="279.4" y="913.2" width="11.7" height="11.7" fill="#fff" stroke="#0000ff" stroke-width="5.1"/><rect x="296.0" y="913.2" width="11.7" height="11.7" fill="#fff" stroke="#0000ff" stroke-width="5.1"/><rect x="312.6" y="913.8" width="11.7" height="11.7" fill="#fff" stroke="#0000ff" stroke-width="5.1"/><rect x="329.1" y="915.1" width="11.7" height="11.7" fill="#fff" stroke="#0000ff" stroke-width="5.1"/><rect x="345.7" y="918.4" width="11.7" height="11.7" fill="#fff" stroke="#0000ff" stroke-width="5.1"/><rect x="362.3" y="927.8" width="11.7" height="11.7" fill="#fff" stroke="#0000ff" stroke-width="5.1"/><rect x="378.9" y="945.9" width="11.7" height="11.7" fill="#fff" stroke="#0000ff" stroke-width="5.1"/><rect x="395.4" y="981.4" width="11.7" height="11.7" fill="#fff" stroke="#0000ff" stroke-width="5.1"/><rect x="412.0" y="1034.2" width="11.7" height="11.7" fill="#fff" stroke="#0000ff" stroke-width="5.1"/><rect x="428.6" y="1083.7" width="11.7" height="11.7" fill="#fff" stroke="#0000ff" stroke-width="5.1"/><rect x="445.2" y="1122.4" width="11.7" height="11.7" fill="#fff" stroke="#0000ff" stroke-width="5.1"/><rect x="461.7" y="1140.4" width="11.7" height="11.7" fill="#fff" stroke="#0000ff" stroke-width="5.1"/><rect x="478.3" y="1149.2" width="11.7" height="11.7" fill="#fff" stroke="#0000ff" stroke-width="5.1"/><rect x="494.9" y="1153.2" width="11.7" height="11.7" fill="#fff" stroke="#0000ff" stroke-width="5.1"/><rect x="511.5" y="1154.7" width="11.7" height="11.7" fill="#fff" stroke="#0000ff" stroke-width="5.1"/><rect x="528.0" y="1155.1" width="11.7" height="11.7" fill="#fff" stroke="#0000ff" stroke-width="5.1"/><rect x="544.6" y="1155.1" width="11.7" height="11.7" fill="#fff" stroke="#0000ff" stroke-width="5.1"/><rect x="561.2" y="1155.1" width="11.7" height="11.7" fill="#fff" stroke="#0000ff" stroke-width="5.1"/><rect x="577.8" y="1155.1" width="11.7" height="11.7" fill="#fff" stroke="#0000ff" stroke-width="5.1"/><rect x="594.4" y="1155.1" width="11.7" height="11.7" fill="#fff" stroke="#0000ff" stroke-width="5.1"/><rect x="610.9" y="1155.1" width="11.7" height="11.7" fill="#fff" stroke="#0000ff" stroke-width="5.1"/><rect x="627.5" y="1155.1" width="11.7" height="11.7" fill="#fff" stroke="#0000ff" stroke-width="5.1"/><rect x="644.1" y="1155.1" width="11.7" height="11.7" fill="#fff" stroke="#0000ff" stroke-width="5.1"/><rect x="660.7" y="1155.1" width="11.7" height="11.7" fill="#fff" stroke="#0000ff" stroke-width="5.1"/><rect x="677.2" y="1155.1" width="11.7" height="11.7" fill="#fff" stroke="#0000ff" stroke-width="5.1"/><rect x="693.8" y="1155.1" width="11.7" height="11.7" fill="#fff" stroke="#0000ff" stroke-width="5.1"/><rect x="710.4" y="1155.1" width="11.7" height="11.7" fill="#fff" stroke="#0000ff" stroke-width="5.1"/><rect x="727.0" y="1155.1" width="11.7" height="11.7" fill="#fff" stroke="#0000ff" stroke-width="5.1"/><rect x="743.5" y="1155.1" width="11.7" height="11.7" fill="#fff" stroke="#0000ff" stroke-width="5.1"/><rect x="760.1" y="1155.1" width="11.7" height="11.7" fill="#fff" stroke="#0000ff" stroke-width="5.1"/><rect x="776.7" y="1155.1" width="11.7" height="11.7" fill="#fff" stroke="#0000ff" stroke-width="5.1"/><rect x="793.3" y="1155.1" width="11.7" height="11.7" fill="#fff" stroke="#0000ff" stroke-width="5.1"/><rect x="809.8" y="1155.1" width="11.7" height="11.7" fill="#fff" stroke="#0000ff" stroke-width="5.1"/><rect x="826.4" y="1155.1" width="11.7" height="11.7" fill="#fff" stroke="#0000ff" stroke-width="5.1"/><rect x="843.0" y="1155.1" width="11.7" height="11.7" fill="#fff" stroke="#0000ff" stroke-width="5.1"/><rect x="859.6" y="1155.1" width="11.7" height="11.7" fill="#fff" stroke="#0000ff" stroke-width="5.1"/><rect x="876.1" y="1155.1" width="11.7" height="11.7" fill="#fff" stroke="#0000ff" stroke-width="5.1"/><rect x="892.7" y="1155.1" width="11.7" height="11.7" fill="#fff" stroke="#0000ff" stroke-width="5.1"/><rect x="909.3" y="1155.1" width="11.7" height="11.7" fill="#fff" stroke="#0000ff" stroke-width="5.1"/><rect x="925.9" y="1155.1" width="11.7" height="11.7" fill="#fff" stroke="#0000ff" stroke-width="5.1"/></g>
<path d="M185.8 969.6 L202.4 969.6 L219.0 969.6 L235.5 969.6 L252.1 969.6 L268.7 969.6 L285.3 969.6 L301.8 969.6 L318.4 970.8 L335.0 973.8 L351.6 976.8 L370.0 985.6 L384.7 1001.0 L401.3 1036.2 L417.9 1082.8 L434.4 1128.3 L451.0 1164.8 L467.6 1182.1 L484.2 1190.4 L500.7 1193.0 L517.3 1193.7 L533.9 1193.7 L550.5 1193.7 L567.0 1193.7 L583.6 1193.7 L600.2 1193.7 L616.8 1193.7 L633.4 1193.7 L649.9 1193.7 L666.5 1193.7 L683.1 1193.7 L699.7 1193.7 L716.2 1193.7 L732.8 1193.7 L749.4 1193.7 L766.0 1193.7 L782.5 1193.7 L799.1 1193.7 L815.7 1193.7 L832.3 1193.7 L848.8 1193.7 L865.4 1193.7 L882.0 1193.7 L898.6 1193.7 L915.1 1193.7 L931.7 1193.7" fill="none" stroke="#ff8000" stroke-width="5.5" stroke-linejoin="round" stroke-linecap="round"/>
<g><polygon points="177.1,964.4 194.6,964.4 185.8,980.0" fill="#fff" stroke="#ff8000" stroke-width="5.4" stroke-linejoin="round"/><polygon points="193.6,964.4 211.1,964.4 202.4,980.0" fill="#fff" stroke="#ff8000" stroke-width="5.4" stroke-linejoin="round"/><polygon points="210.2,964.4 227.7,964.4 219.0,980.0" fill="#fff" stroke="#ff8000" stroke-width="5.4" stroke-linejoin="round"/><polygon points="226.8,964.4 244.3,964.4 235.5,980.0" fill="#fff" stroke="#ff8000" stroke-width="5.4" stroke-linejoin="round"/><polygon points="243.4,964.4 260.9,964.4 252.1,980.0" fill="#fff" stroke="#ff8000" stroke-width="5.4" stroke-linejoin="round"/><polygon points="259.9,964.4 277.4,964.4 268.7,980.0" fill="#fff" stroke="#ff8000" stroke-width="5.4" stroke-linejoin="round"/><polygon points="276.5,964.4 294.0,964.4 285.3,980.0" fill="#fff" stroke="#ff8000" stroke-width="5.4" stroke-linejoin="round"/><polygon points="293.1,964.4 310.6,964.4 301.8,980.0" fill="#fff" stroke="#ff8000" stroke-width="5.4" stroke-linejoin="round"/><polygon points="309.7,965.6 327.2,965.6 318.4,981.2" fill="#fff" stroke="#ff8000" stroke-width="5.4" stroke-linejoin="round"/><polygon points="326.2,968.6 343.7,968.6 335.0,984.2" fill="#fff" stroke="#ff8000" stroke-width="5.4" stroke-linejoin="round"/><polygon points="342.8,971.6 360.3,971.6 351.6,987.2" fill="#fff" stroke="#ff8000" stroke-width="5.4" stroke-linejoin="round"/><polygon points="361.2,980.4 378.8,980.4 370.0,996.0" fill="#fff" stroke="#ff8000" stroke-width="5.4" stroke-linejoin="round"/><polygon points="376.0,995.8 393.5,995.8 384.7,1011.4" fill="#fff" stroke="#ff8000" stroke-width="5.4" stroke-linejoin="round"/><polygon points="392.5,1031.0 410.0,1031.0 401.3,1046.6" fill="#fff" stroke="#ff8000" stroke-width="5.4" stroke-linejoin="round"/><polygon points="409.1,1077.6 426.6,1077.6 417.9,1093.2" fill="#fff" stroke="#ff8000" stroke-width="5.4" stroke-linejoin="round"/><polygon points="425.7,1123.1 443.2,1123.1 434.4,1138.7" fill="#fff" stroke="#ff8000" stroke-width="5.4" stroke-linejoin="round"/><polygon points="442.3,1159.6 459.8,1159.6 451.0,1175.2" fill="#fff" stroke="#ff8000" stroke-width="5.4" stroke-linejoin="round"/><polygon points="458.8,1176.9 476.3,1176.9 467.6,1192.5" fill="#fff" stroke="#ff8000" stroke-width="5.4" stroke-linejoin="round"/><polygon points="475.4,1185.2 492.9,1185.2 484.2,1200.8" fill="#fff" stroke="#ff8000" stroke-width="5.4" stroke-linejoin="round"/><polygon points="492.0,1187.8 509.5,1187.8 500.7,1203.4" fill="#fff" stroke="#ff8000" stroke-width="5.4" stroke-linejoin="round"/><polygon points="508.6,1188.5 526.1,1188.5 517.3,1204.1" fill="#fff" stroke="#ff8000" stroke-width="5.4" stroke-linejoin="round"/><polygon points="525.1,1188.5 542.6,1188.5 533.9,1204.1" fill="#fff" stroke="#ff8000" stroke-width="5.4" stroke-linejoin="round"/><polygon points="541.7,1188.5 559.2,1188.5 550.5,1204.1" fill="#fff" stroke="#ff8000" stroke-width="5.4" stroke-linejoin="round"/><polygon points="558.3,1188.5 575.8,1188.5 567.0,1204.1" fill="#fff" stroke="#ff8000" stroke-width="5.4" stroke-linejoin="round"/><polygon points="574.9,1188.5 592.4,1188.5 583.6,1204.1" fill="#fff" stroke="#ff8000" stroke-width="5.4" stroke-linejoin="round"/><polygon points="591.5,1188.5 609.0,1188.5 600.2,1204.1" fill="#fff" stroke="#ff8000" stroke-width="5.4" stroke-linejoin="round"/><polygon points="608.0,1188.5 625.5,1188.5 616.8,1204.1" fill="#fff" stroke="#ff8000" stroke-width="5.4" stroke-linejoin="round"/><polygon points="624.6,1188.5 642.1,1188.5 633.4,1204.1" fill="#fff" stroke="#ff8000" stroke-width="5.4" stroke-linejoin="round"/><polygon points="641.2,1188.5 658.7,1188.5 649.9,1204.1" fill="#fff" stroke="#ff8000" stroke-width="5.4" stroke-linejoin="round"/><polygon points="657.8,1188.5 675.3,1188.5 666.5,1204.1" fill="#fff" stroke="#ff8000" stroke-width="5.4" stroke-linejoin="round"/><polygon points="674.3,1188.5 691.8,1188.5 683.1,1204.1" fill="#fff" stroke="#ff8000" stroke-width="5.4" stroke-linejoin="round"/><polygon points="690.9,1188.5 708.4,1188.5 699.7,1204.1" fill="#fff" stroke="#ff8000" stroke-width="5.4" stroke-linejoin="round"/><polygon points="707.5,1188.5 725.0,1188.5 716.2,1204.1" fill="#fff" stroke="#ff8000" stroke-width="5.4" stroke-linejoin="round"/><polygon points="724.1,1188.5 741.6,1188.5 732.8,1204.1" fill="#fff" stroke="#ff8000" stroke-width="5.4" stroke-linejoin="round"/><polygon points="740.6,1188.5 758.1,1188.5 749.4,1204.1" fill="#fff" stroke="#ff8000" stroke-width="5.4" stroke-linejoin="round"/><polygon points="757.2,1188.5 774.7,1188.5 766.0,1204.1" fill="#fff" stroke="#ff8000" stroke-width="5.4" stroke-linejoin="round"/><polygon points="773.8,1188.5 791.3,1188.5 782.5,1204.1" fill="#fff" stroke="#ff8000" stroke-width="5.4" stroke-linejoin="round"/><polygon points="790.4,1188.5 807.9,1188.5 799.1,1204.1" fill="#fff" stroke="#ff8000" stroke-width="5.4" stroke-linejoin="round"/><polygon points="806.9,1188.5 824.4,1188.5 815.7,1204.1" fill="#fff" stroke="#ff8000" stroke-width="5.4" stroke-linejoin="round"/><polygon points="823.5,1188.5 841.0,1188.5 832.3,1204.1" fill="#fff" stroke="#ff8000" stroke-width="5.4" stroke-linejoin="round"/><polygon points="840.1,1188.5 857.6,1188.5 848.8,1204.1" fill="#fff" stroke="#ff8000" stroke-width="5.4" stroke-linejoin="round"/><polygon points="856.7,1188.5 874.2,1188.5 865.4,1204.1" fill="#fff" stroke="#ff8000" stroke-width="5.4" stroke-linejoin="round"/><polygon points="873.2,1188.5 890.7,1188.5 882.0,1204.1" fill="#fff" stroke="#ff8000" stroke-width="5.4" stroke-linejoin="round"/><polygon points="889.8,1188.5 907.3,1188.5 898.6,1204.1" fill="#fff" stroke="#ff8000" stroke-width="5.4" stroke-linejoin="round"/><polygon points="906.4,1188.5 923.9,1188.5 915.1,1204.1" fill="#fff" stroke="#ff8000" stroke-width="5.4" stroke-linejoin="round"/><polygon points="923.0,1188.5 940.5,1188.5 931.7,1204.1" fill="#fff" stroke="#ff8000" stroke-width="5.4" stroke-linejoin="round"/></g>
<path d="M185.8 1041.0 L202.4 1041.0 L219.0 1041.0 L235.5 1041.0 L252.1 1041.0 L268.7 1041.0 L285.3 1041.0 L301.8 1041.0 L318.4 1042.2 L335.0 1046.0 L351.6 1052.5 L374.5 1066.0 L384.7 1095.0 L401.3 1131.5 L417.9 1172.6 L434.4 1201.7 L451.0 1216.5 L467.6 1220.3 L484.2 1221.5 L500.7 1222.0 L517.3 1222.0 L533.9 1222.0 L550.5 1222.0 L567.0 1222.0 L583.6 1222.0 L600.2 1222.0 L616.8 1222.0 L633.4 1222.0 L649.9 1222.0 L666.5 1222.0 L683.1 1222.0 L699.7 1222.0 L716.2 1222.0 L732.8 1222.0 L749.4 1222.0 L766.0 1222.0 L782.5 1222.0 L799.1 1222.0 L815.7 1222.0 L832.3 1222.0 L848.8 1222.0 L865.4 1222.0 L882.0 1222.0 L898.6 1222.0 L915.1 1222.0 L931.7 1222.0" fill="none" stroke="#008000" stroke-width="5.5" stroke-linejoin="round" stroke-linecap="round"/>
<g><polygon points="177.1,1046.2 194.6,1046.2 185.8,1030.6" fill="#fff" stroke="#008000" stroke-width="5.4" stroke-linejoin="round"/><polygon points="193.6,1046.2 211.1,1046.2 202.4,1030.6" fill="#fff" stroke="#008000" stroke-width="5.4" stroke-linejoin="round"/><polygon points="210.2,1046.2 227.7,1046.2 219.0,1030.6" fill="#fff" stroke="#008000" stroke-width="5.4" stroke-linejoin="round"/><polygon points="226.8,1046.2 244.3,1046.2 235.5,1030.6" fill="#fff" stroke="#008000" stroke-width="5.4" stroke-linejoin="round"/><polygon points="243.4,1046.2 260.9,1046.2 252.1,1030.6" fill="#fff" stroke="#008000" stroke-width="5.4" stroke-linejoin="round"/><polygon points="259.9,1046.2 277.4,1046.2 268.7,1030.6" fill="#fff" stroke="#008000" stroke-width="5.4" stroke-linejoin="round"/><polygon points="276.5,1046.2 294.0,1046.2 285.3,1030.6" fill="#fff" stroke="#008000" stroke-width="5.4" stroke-linejoin="round"/><polygon points="293.1,1046.2 310.6,1046.2 301.8,1030.6" fill="#fff" stroke="#008000" stroke-width="5.4" stroke-linejoin="round"/><polygon points="309.7,1047.4 327.2,1047.4 318.4,1031.8" fill="#fff" stroke="#008000" stroke-width="5.4" stroke-linejoin="round"/><polygon points="326.2,1051.2 343.7,1051.2 335.0,1035.6" fill="#fff" stroke="#008000" stroke-width="5.4" stroke-linejoin="round"/><polygon points="342.8,1057.7 360.3,1057.7 351.6,1042.1" fill="#fff" stroke="#008000" stroke-width="5.4" stroke-linejoin="round"/><polygon points="365.8,1071.2 383.2,1071.2 374.5,1055.6" fill="#fff" stroke="#008000" stroke-width="5.4" stroke-linejoin="round"/><polygon points="376.0,1100.2 393.5,1100.2 384.7,1084.6" fill="#fff" stroke="#008000" stroke-width="5.4" stroke-linejoin="round"/><polygon points="392.5,1136.7 410.0,1136.7 401.3,1121.1" fill="#fff" stroke="#008000" stroke-width="5.4" stroke-linejoin="round"/><polygon points="409.1,1177.8 426.6,1177.8 417.9,1162.2" fill="#fff" stroke="#008000" stroke-width="5.4" stroke-linejoin="round"/><polygon points="425.7,1206.9 443.2,1206.9 434.4,1191.3" fill="#fff" stroke="#008000" stroke-width="5.4" stroke-linejoin="round"/><polygon points="442.3,1221.7 459.8,1221.7 451.0,1206.1" fill="#fff" stroke="#008000" stroke-width="5.4" stroke-linejoin="round"/><polygon points="458.8,1225.5 476.3,1225.5 467.6,1209.9" fill="#fff" stroke="#008000" stroke-width="5.4" stroke-linejoin="round"/><polygon points="475.4,1226.7 492.9,1226.7 484.2,1211.1" fill="#fff" stroke="#008000" stroke-width="5.4" stroke-linejoin="round"/><polygon points="492.0,1227.2 509.5,1227.2 500.7,1211.6" fill="#fff" stroke="#008000" stroke-width="5.4" stroke-linejoin="round"/><polygon points="508.6,1227.2 526.1,1227.2 517.3,1211.6" fill="#fff" stroke="#008000" stroke-width="5.4" stroke-linejoin="round"/><polygon points="525.1,1227.2 542.6,1227.2 533.9,1211.6" fill="#fff" stroke="#008000" stroke-width="5.4" stroke-linejoin="round"/><polygon points="541.7,1227.2 559.2,1227.2 550.5,1211.6" fill="#fff" stroke="#008000" stroke-width="5.4" stroke-linejoin="round"/><polygon points="558.3,1227.2 575.8,1227.2 567.0,1211.6" fill="#fff" stroke="#008000" stroke-width="5.4" stroke-linejoin="round"/><polygon points="574.9,1227.2 592.4,1227.2 583.6,1211.6" fill="#fff" stroke="#008000" stroke-width="5.4" stroke-linejoin="round"/><polygon points="591.5,1227.2 609.0,1227.2 600.2,1211.6" fill="#fff" stroke="#008000" stroke-width="5.4" stroke-linejoin="round"/><polygon points="608.0,1227.2 625.5,1227.2 616.8,1211.6" fill="#fff" stroke="#008000" stroke-width="5.4" stroke-linejoin="round"/><polygon points="624.6,1227.2 642.1,1227.2 633.4,1211.6" fill="#fff" stroke="#008000" stroke-width="5.4" stroke-linejoin="round"/><polygon points="641.2,1227.2 658.7,1227.2 649.9,1211.6" fill="#fff" stroke="#008000" stroke-width="5.4" stroke-linejoin="round"/><polygon points="657.8,1227.2 675.3,1227.2 666.5,1211.6" fill="#fff" stroke="#008000" stroke-width="5.4" stroke-linejoin="round"/><polygon points="674.3,1227.2 691.8,1227.2 683.1,1211.6" fill="#fff" stroke="#008000" stroke-width="5.4" stroke-linejoin="round"/><polygon points="690.9,1227.2 708.4,1227.2 699.7,1211.6" fill="#fff" stroke="#008000" stroke-width="5.4" stroke-linejoin="round"/><polygon points="707.5,1227.2 725.0,1227.2 716.2,1211.6" fill="#fff" stroke="#008000" stroke-width="5.4" stroke-linejoin="round"/><polygon points="724.1,1227.2 741.6,1227.2 732.8,1211.6" fill="#fff" stroke="#008000" stroke-width="5.4" stroke-linejoin="round"/><polygon points="740.6,1227.2 758.1,1227.2 749.4,1211.6" fill="#fff" stroke="#008000" stroke-width="5.4" stroke-linejoin="round"/><polygon points="757.2,1227.2 774.7,1227.2 766.0,1211.6" fill="#fff" stroke="#008000" stroke-width="5.4" stroke-linejoin="round"/><polygon points="773.8,1227.2 791.3,1227.2 782.5,1211.6" fill="#fff" stroke="#008000" stroke-width="5.4" stroke-linejoin="round"/><polygon points="790.4,1227.2 807.9,1227.2 799.1,1211.6" fill="#fff" stroke="#008000" stroke-width="5.4" stroke-linejoin="round"/><polygon points="806.9,1227.2 824.4,1227.2 815.7,1211.6" fill="#fff" stroke="#008000" stroke-width="5.4" stroke-linejoin="round"/><polygon points="823.5,1227.2 841.0,1227.2 832.3,1211.6" fill="#fff" stroke="#008000" stroke-width="5.4" stroke-linejoin="round"/><polygon points="840.1,1227.2 857.6,1227.2 848.8,1211.6" fill="#fff" stroke="#008000" stroke-width="5.4" stroke-linejoin="round"/><polygon points="856.7,1227.2 874.2,1227.2 865.4,1211.6" fill="#fff" stroke="#008000" stroke-width="5.4" stroke-linejoin="round"/><polygon points="873.2,1227.2 890.7,1227.2 882.0,1211.6" fill="#fff" stroke="#008000" stroke-width="5.4" stroke-linejoin="round"/><polygon points="889.8,1227.2 907.3,1227.2 898.6,1211.6" fill="#fff" stroke="#008000" stroke-width="5.4" stroke-linejoin="round"/><polygon points="906.4,1227.2 923.9,1227.2 915.1,1211.6" fill="#fff" stroke="#008000" stroke-width="5.4" stroke-linejoin="round"/><polygon points="923.0,1227.2 940.5,1227.2 931.7,1211.6" fill="#fff" stroke="#008000" stroke-width="5.4" stroke-linejoin="round"/></g>
<g stroke="#000" stroke-width="5.4" fill="none">
<line x1="159.2" y1="876.1" x2="954.8" y2="876.1"/>
<line x1="154.2" y1="1447.1" x2="949.5" y2="1447.1"/>
<line x1="166.9" y1="876.1" x2="166.9" y2="1447.1"/>
<line x1="946.9" y1="876.1" x2="946.9" y2="1447.1"/>
</g>
<g stroke="#000" stroke-width="5.2" fill="none">
<line x1="154.2" y1="1283.8" x2="166.9" y2="1283.8"/>
<line x1="154.2" y1="1120.5" x2="166.9" y2="1120.5"/>
<line x1="154.2" y1="957.2" x2="166.9" y2="957.2"/>
<line x1="159.2" y1="1365.5" x2="166.9" y2="1365.5"/>
<line x1="159.2" y1="1202.2" x2="166.9" y2="1202.2"/>
<line x1="159.2" y1="1038.9" x2="166.9" y2="1038.9"/>
<line x1="946.9" y1="1440.2" x2="959.0" y2="1440.2"/>
<line x1="946.9" y1="1359.7" x2="954.8" y2="1359.7"/>
<line x1="946.9" y1="1279.2" x2="959.0" y2="1279.2"/>
<line x1="946.9" y1="1198.7" x2="954.8" y2="1198.7"/>
<line x1="946.9" y1="1118.2" x2="959.0" y2="1118.2"/>
<line x1="946.9" y1="1037.7" x2="954.8" y2="1037.7"/>
<line x1="946.9" y1="957.2" x2="959.0" y2="957.2"/>
</g>
<g stroke="#000" stroke-width="4.8" fill="none">
<line x1="185.8" y1="1447.1" x2="185.8" y2="1461.6"/>
<line x1="268.7" y1="1447.1" x2="268.7" y2="1461.6"/>
<line x1="351.6" y1="1447.1" x2="351.6" y2="1461.6"/>
<line x1="434.4" y1="1447.1" x2="434.4" y2="1461.6"/>
<line x1="517.3" y1="1447.1" x2="517.3" y2="1461.6"/>
<line x1="600.2" y1="1447.1" x2="600.2" y2="1461.6"/>
<line x1="683.1" y1="1447.1" x2="683.1" y2="1461.6"/>
<line x1="766.0" y1="1447.1" x2="766.0" y2="1461.6"/>
<line x1="848.8" y1="1447.1" x2="848.8" y2="1461.6"/>
<line x1="931.7" y1="1447.1" x2="931.7" y2="1461.6"/>
</g><g stroke="#000" stroke-width="4.3" fill="none">
<line x1="167.4" y1="1447.1" x2="167.4" y2="1456.6"/>
<line x1="173.0" y1="1447.1" x2="173.0" y2="1456.6"/>
<line x1="177.8" y1="1447.1" x2="177.8" y2="1456.6"/>
<line x1="182.0" y1="1447.1" x2="182.0" y2="1456.6"/>
<line x1="210.7" y1="1447.1" x2="210.7" y2="1456.6"/>
<line x1="225.3" y1="1447.1" x2="225.3" y2="1456.6"/>
<line x1="235.7" y1="1447.1" x2="235.7" y2="1456.6"/>
<line x1="243.7" y1="1447.1" x2="243.7" y2="1456.6"/>
<line x1="250.3" y1="1447.1" x2="250.3" y2="1456.6"/>
<line x1="255.8" y1="1447.1" x2="255.8" y2="1456.6"/>
<line x1="260.6" y1="1447.1" x2="260.6" y2="1456.6"/>
<line x1="264.9" y1="1447.1" x2="264.9" y2="1456.6"/>
<line x1="293.6" y1="1447.1" x2="293.6" y2="1456.6"/>
<line x1="308.2" y1="1447.1" x2="308.2" y2="1456.6"/>
<line x1="318.6" y1="1447.1" x2="318.6" y2="1456.6"/>
<line x1="326.6" y1="1447.1" x2="326.6" y2="1456.6"/>
<line x1="333.2" y1="1447.1" x2="333.2" y2="1456.6"/>
<line x1="338.7" y1="1447.1" x2="338.7" y2="1456.6"/>
<line x1="343.5" y1="1447.1" x2="343.5" y2="1456.6"/>
<line x1="347.8" y1="1447.1" x2="347.8" y2="1456.6"/>
<line x1="376.5" y1="1447.1" x2="376.5" y2="1456.6"/>
<line x1="391.1" y1="1447.1" x2="391.1" y2="1456.6"/>
<line x1="401.5" y1="1447.1" x2="401.5" y2="1456.6"/>
<line x1="409.5" y1="1447.1" x2="409.5" y2="1456.6"/>
<line x1="416.1" y1="1447.1" x2="416.1" y2="1456.6"/>
<line x1="421.6" y1="1447.1" x2="421.6" y2="1456.6"/>
<line x1="426.4" y1="1447.1" x2="426.4" y2="1456.6"/>
<line x1="430.6" y1="1447.1" x2="430.6" y2="1456.6"/>
<line x1="459.4" y1="1447.1" x2="459.4" y2="1456.6"/>
<line x1="474.0" y1="1447.1" x2="474.0" y2="1456.6"/>
<line x1="484.3" y1="1447.1" x2="484.3" y2="1456.6"/>
<line x1="492.4" y1="1447.1" x2="492.4" y2="1456.6"/>
<line x1="498.9" y1="1447.1" x2="498.9" y2="1456.6"/>
<line x1="504.5" y1="1447.1" x2="504.5" y2="1456.6"/>
<line x1="509.3" y1="1447.1" x2="509.3" y2="1456.6"/>
<line x1="513.5" y1="1447.1" x2="513.5" y2="1456.6"/>
<line x1="542.3" y1="1447.1" x2="542.3" y2="1456.6"/>
<line x1="556.9" y1="1447.1" x2="556.9" y2="1456.6"/>
<line x1="567.2" y1="1447.1" x2="567.2" y2="1456.6"/>
<line x1="575.3" y1="1447.1" x2="575.3" y2="1456.6"/>
<line x1="581.8" y1="1447.1" x2="581.8" y2="1456.6"/>
<line x1="587.4" y1="1447.1" x2="587.4" y2="1456.6"/>
<line x1="592.2" y1="1447.1" x2="592.2" y2="1456.6"/>
<line x1="596.4" y1="1447.1" x2="596.4" y2="1456.6"/>
<line x1="625.1" y1="1447.1" x2="625.1" y2="1456.6"/>
<line x1="639.7" y1="1447.1" x2="639.7" y2="1456.6"/>
<line x1="650.1" y1="1447.1" x2="650.1" y2="1456.6"/>
<line x1="658.1" y1="1447.1" x2="658.1" y2="1456.6"/>
<line x1="664.7" y1="1447.1" x2="664.7" y2="1456.6"/>
<line x1="670.2" y1="1447.1" x2="670.2" y2="1456.6"/>
<line x1="675.0" y1="1447.1" x2="675.0" y2="1456.6"/>
<line x1="679.3" y1="1447.1" x2="679.3" y2="1456.6"/>
<line x1="708.0" y1="1447.1" x2="708.0" y2="1456.6"/>
<line x1="722.6" y1="1447.1" x2="722.6" y2="1456.6"/>
<line x1="733.0" y1="1447.1" x2="733.0" y2="1456.6"/>
<line x1="741.0" y1="1447.1" x2="741.0" y2="1456.6"/>
<line x1="747.6" y1="1447.1" x2="747.6" y2="1456.6"/>
<line x1="753.1" y1="1447.1" x2="753.1" y2="1456.6"/>
<line x1="757.9" y1="1447.1" x2="757.9" y2="1456.6"/>
<line x1="762.2" y1="1447.1" x2="762.2" y2="1456.6"/>
<line x1="790.9" y1="1447.1" x2="790.9" y2="1456.6"/>
<line x1="805.5" y1="1447.1" x2="805.5" y2="1456.6"/>
<line x1="815.9" y1="1447.1" x2="815.9" y2="1456.6"/>
<line x1="823.9" y1="1447.1" x2="823.9" y2="1456.6"/>
<line x1="830.5" y1="1447.1" x2="830.5" y2="1456.6"/>
<line x1="836.0" y1="1447.1" x2="836.0" y2="1456.6"/>
<line x1="840.8" y1="1447.1" x2="840.8" y2="1456.6"/>
<line x1="845.0" y1="1447.1" x2="845.0" y2="1456.6"/>
<line x1="873.8" y1="1447.1" x2="873.8" y2="1456.6"/>
<line x1="888.4" y1="1447.1" x2="888.4" y2="1456.6"/>
<line x1="898.7" y1="1447.1" x2="898.7" y2="1456.6"/>
<line x1="906.8" y1="1447.1" x2="906.8" y2="1456.6"/>
<line x1="913.3" y1="1447.1" x2="913.3" y2="1456.6"/>
<line x1="918.9" y1="1447.1" x2="918.9" y2="1456.6"/>
<line x1="923.7" y1="1447.1" x2="923.7" y2="1456.6"/>
<line x1="927.9" y1="1447.1" x2="927.9" y2="1456.6"/>
</g>
<g font-family="Liberation Sans, sans-serif" font-weight="bold" fill="#000">
<text x="4.5" y="859.0" font-size="64">(b)</text>
<text transform="translate(146.3 1460.1) scale(1 1.040)" font-size="44" text-anchor="end">2</text>
<text transform="translate(146.3 1296.7) scale(1 1.040)" font-size="44" text-anchor="end">4</text>
<text transform="translate(146.3 1133.4) scale(1 1.040)" font-size="44" text-anchor="end">6</text>
<text transform="translate(146.3 970.1) scale(1 1.040)" font-size="44" text-anchor="end">8</text>
<text transform="translate(964.6 1450.3) scale(1 1.040)" font-size="44">0.0</text>
<text transform="translate(964.6 1289.3) scale(1 1.040)" font-size="44">0.2</text>
<text transform="translate(964.6 1128.3) scale(1 1.040)" font-size="44">0.4</text>
<text transform="translate(964.6 967.3) scale(1 1.040)" font-size="44">0.6</text>
<text transform="translate(270.8 1509.7) scale(0.965 1.040)" font-size="44" text-anchor="middle">10<tspan font-size="28.5" dy="-18.1" dx="-0.8">−</tspan><tspan font-size="28.5" dx="-1.2">1</tspan></text>
<text transform="translate(435.0 1509.7) scale(0.965 1.040)" font-size="44" text-anchor="middle">10<tspan font-size="28.5" dy="-21.3" dx="-0.8">1</tspan></text>
<text transform="translate(600.8 1509.7) scale(0.965 1.040)" font-size="44" text-anchor="middle">10<tspan font-size="28.5" dy="-21.3" dx="-0.8">3</tspan></text>
<text transform="translate(766.6 1509.7) scale(0.965 1.040)" font-size="44" text-anchor="middle">10<tspan font-size="28.5" dy="-21.3" dx="-0.8">5</tspan></text>
<text transform="translate(932.3 1509.7) scale(0.965 1.040)" font-size="44" text-anchor="middle">10<tspan font-size="28.5" dy="-21.3" dx="-0.8">7</tspan></text>
<text transform="translate(556.9 1565.2) scale(1 1.040)" font-size="45" text-anchor="middle" textLength="323.2" lengthAdjust="spacingAndGlyphs">Frequency (Hz)</text>
<text transform="translate(89.6 1157.9) rotate(-90) scale(1 1.040)" font-size="44.8" text-anchor="middle" textLength="315.5" lengthAdjust="spacingAndGlyphs">Permittivity (<tspan font-style="italic">ε</tspan>')</text>
<text transform="translate(1052.2 1152.7) rotate(90) scale(1 1.040)" font-size="45" text-anchor="middle" textLength="240" lengthAdjust="spacingAndGlyphs">Losses (<tspan font-style="italic">ε</tspan>'')</text>
</g>
<line x1="671" y1="911.3" x2="740.3" y2="911.3" stroke="#000000" stroke-width="5.2" stroke-linecap="round"/>
<circle cx="705.9" cy="911.3" r="7.2" fill="#fff" stroke="#000000" stroke-width="5.2"/>
<text transform="translate(748.9 922.6) scale(1 1.04)" font-size="33.5" textLength="71.6" lengthAdjust="spacingAndGlyphs" font-family="Liberation Sans, sans-serif" font-weight="bold" fill="#000">HNP</text>
<line x1="671" y1="953.8" x2="740.3" y2="953.8" stroke="#0000ff" stroke-width="5.2" stroke-linecap="round"/>
<rect x="700.0" y="947.9" width="11.7" height="11.7" fill="#fff" stroke="#0000ff" stroke-width="5.1"/>
<text transform="translate(747.6 964.4) scale(1 1.04)" font-size="33.5" textLength="125.6" lengthAdjust="spacingAndGlyphs" font-family="Liberation Sans, sans-serif" font-weight="bold" fill="#000">PT-HNP</text>
<line x1="671" y1="996.3" x2="740.3" y2="996.3" stroke="#ff8000" stroke-width="5.2" stroke-linecap="round"/>
<polygon points="697.1,991.1 714.6,991.1 705.9,1006.7" fill="#fff" stroke="#ff8000" stroke-width="5.4" stroke-linejoin="round"/>
<text transform="translate(748.9 1006.3) scale(1 1.04)" font-size="33.5" textLength="144.3" lengthAdjust="spacingAndGlyphs" font-family="Liberation Sans, sans-serif" font-weight="bold" fill="#000">PPy-HNP</text>
<line x1="671" y1="1038.8" x2="740.3" y2="1038.8" stroke="#008000" stroke-width="5.2" stroke-linecap="round"/>
<polygon points="697.1,1044.0 714.6,1044.0 705.9,1028.4" fill="#fff" stroke="#008000" stroke-width="5.4" stroke-linejoin="round"/>
<text transform="translate(748.5 1048.1) scale(1 1.04)" font-size="33.5" textLength="162.0" lengthAdjust="spacingAndGlyphs" font-family="Liberation Sans, sans-serif" font-weight="bold" fill="#000">PANI-HNP</text>
</svg>
</body></html>
